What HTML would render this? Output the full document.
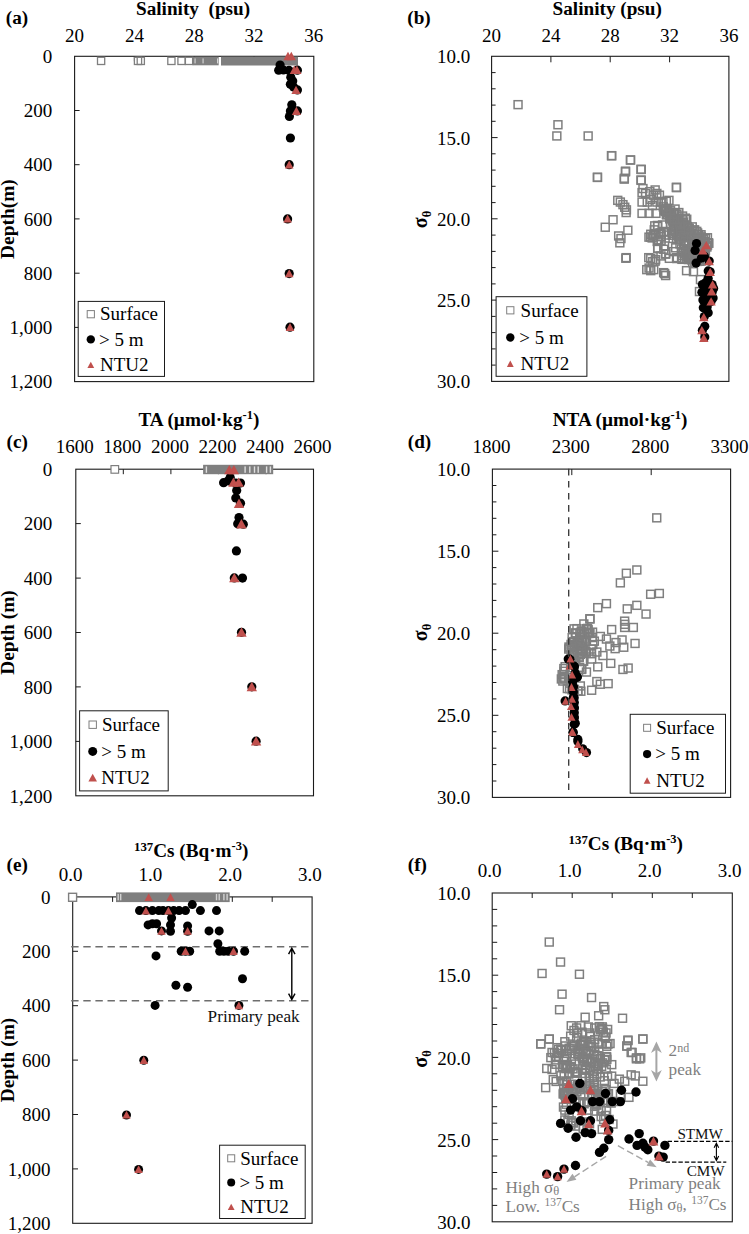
<!DOCTYPE html>
<html><head><meta charset="utf-8"><title>Figure</title>
<style>
html,body{margin:0;padding:0;background:#fff;}
svg{display:block;font-family:"Liberation Serif",serif;}
</style></head><body>
<svg width="749" height="1234" viewBox="0 0 749 1234">
<rect width="749" height="1234" fill="#fff"/>
<rect x="74.6" y="56.3" width="239.2" height="325.3" fill="none" stroke="#1a1a1a" stroke-width="1.1"/>
<rect x="491.6" y="56.3" width="237.3" height="325.1" fill="none" stroke="#1a1a1a" stroke-width="1.1"/>
<rect x="75.8" y="469.2" width="237.7" height="326.6" fill="none" stroke="#1a1a1a" stroke-width="1.1"/>
<rect x="492.4" y="469.1" width="238.2" height="328.3" fill="none" stroke="#1a1a1a" stroke-width="1.1"/>
<rect x="72.7" y="896.9" width="239.4" height="326.4" fill="none" stroke="#1a1a1a" stroke-width="1.1"/>
<rect x="492.2" y="893.0" width="240.1" height="328.8" fill="none" stroke="#1a1a1a" stroke-width="1.1"/>
<line x1="134.4" y1="56.3" x2="134.4" y2="61.3" stroke="#1a1a1a" stroke-width="1.0"/>
<line x1="194.2" y1="56.3" x2="194.2" y2="61.3" stroke="#1a1a1a" stroke-width="1.0"/>
<line x1="254.0" y1="56.3" x2="254.0" y2="61.3" stroke="#1a1a1a" stroke-width="1.0"/>
<line x1="74.6" y1="110.5" x2="79.6" y2="110.5" stroke="#1a1a1a" stroke-width="1.0"/>
<line x1="74.6" y1="164.7" x2="79.6" y2="164.7" stroke="#1a1a1a" stroke-width="1.0"/>
<line x1="74.6" y1="218.9" x2="79.6" y2="218.9" stroke="#1a1a1a" stroke-width="1.0"/>
<line x1="74.6" y1="273.2" x2="79.6" y2="273.2" stroke="#1a1a1a" stroke-width="1.0"/>
<line x1="74.6" y1="327.4" x2="79.6" y2="327.4" stroke="#1a1a1a" stroke-width="1.0"/>
<rect x="97.5" y="57.3" width="7.2" height="7.2" fill="none" stroke="#7f7f7f" stroke-width="1.3"/>
<rect x="134.4" y="57.3" width="7.2" height="7.2" fill="none" stroke="#7f7f7f" stroke-width="1.3"/>
<rect x="137.2" y="57.3" width="7.2" height="7.2" fill="none" stroke="#7f7f7f" stroke-width="1.3"/>
<rect x="167.8" y="57.3" width="7.2" height="7.2" fill="none" stroke="#7f7f7f" stroke-width="1.3"/>
<rect x="177.9" y="57.3" width="7.2" height="7.2" fill="none" stroke="#7f7f7f" stroke-width="1.3"/>
<rect x="185.4" y="57.3" width="7.2" height="7.2" fill="none" stroke="#7f7f7f" stroke-width="1.3"/>
<rect x="192.5" y="56.7" width="26.2" height="8.6" fill="#7f7f7f"/>
<rect x="194.6" y="58.4" width="0.9" height="5.0" fill="#fff" opacity="0.85"/>
<rect x="202.6" y="58.4" width="0.9" height="5.0" fill="#fff" opacity="0.85"/>
<rect x="217.2" y="58.4" width="0.9" height="5.0" fill="#fff" opacity="0.85"/>
<rect x="221.0" y="56.7" width="77.0" height="8.8" fill="#7f7f7f"/>
<circle cx="280.1" cy="65.1" r="4.6" fill="#000"/>
<circle cx="278.7" cy="70.2" r="4.6" fill="#000"/>
<circle cx="283.4" cy="70.0" r="4.6" fill="#000"/>
<circle cx="290.8" cy="77.2" r="4.6" fill="#000"/>
<circle cx="290.4" cy="84.3" r="4.6" fill="#000"/>
<circle cx="292.7" cy="81.0" r="4.6" fill="#000"/>
<circle cx="297.4" cy="70.2" r="4.6" fill="#000"/>
<circle cx="297.4" cy="89.9" r="4.6" fill="#000"/>
<circle cx="291.8" cy="104.8" r="4.6" fill="#000"/>
<circle cx="289.4" cy="116.5" r="4.6" fill="#000"/>
<circle cx="297.4" cy="110.9" r="4.6" fill="#000"/>
<circle cx="290.4" cy="138.0" r="4.6" fill="#000"/>
<circle cx="293.6" cy="87.1" r="4.6" fill="#000"/>
<circle cx="289.0" cy="70.4" r="4.6" fill="#000"/>
<circle cx="290.4" cy="110.9" r="4.6" fill="#000"/>
<circle cx="289.2" cy="164.7" r="4.6" fill="#000"/>
<circle cx="287.6" cy="218.9" r="4.6" fill="#000"/>
<circle cx="289.2" cy="273.6" r="4.6" fill="#000"/>
<circle cx="290.0" cy="327.2" r="4.6" fill="#000"/>
<path d="M288.0 51.8 L292.6 60.2 L283.4 60.2Z" fill="#c0504d"/>
<path d="M291.3 51.8 L295.9 60.2 L286.7 60.2Z" fill="#c0504d"/>
<path d="M294.3 65.6 L298.9 74.0 L289.7 74.0Z" fill="#c0504d"/>
<path d="M296.9 65.6 L301.5 74.0 L292.3 74.0Z" fill="#c0504d"/>
<path d="M296.0 85.7 L300.6 94.1 L291.4 94.1Z" fill="#c0504d"/>
<path d="M296.4 106.7 L301.0 115.1 L291.8 115.1Z" fill="#c0504d"/>
<path d="M289.2 160.4 L293.5 168.4 L284.9 168.4Z" fill="#c0504d"/>
<path d="M287.6 214.6 L291.9 222.6 L283.3 222.6Z" fill="#c0504d"/>
<path d="M289.2 269.3 L293.5 277.3 L284.9 277.3Z" fill="#c0504d"/>
<path d="M290.0 322.9 L294.3 330.9 L285.7 330.9Z" fill="#c0504d"/>
<text x="74.6" y="41.6" font-size="19" text-anchor="middle" font-weight="normal" fill="#000" >20</text>
<text x="134.4" y="41.6" font-size="19" text-anchor="middle" font-weight="normal" fill="#000" >24</text>
<text x="194.2" y="41.6" font-size="19" text-anchor="middle" font-weight="normal" fill="#000" >28</text>
<text x="254.0" y="41.6" font-size="19" text-anchor="middle" font-weight="normal" fill="#000" >32</text>
<text x="313.8" y="41.6" font-size="19" text-anchor="middle" font-weight="normal" fill="#000" >36</text>
<text x="52.3" y="63.0" font-size="19" text-anchor="end" font-weight="normal" fill="#000" >0</text>
<text x="52.3" y="117.2" font-size="19" text-anchor="end" font-weight="normal" fill="#000" >200</text>
<text x="52.3" y="171.4" font-size="19" text-anchor="end" font-weight="normal" fill="#000" >400</text>
<text x="52.3" y="225.7" font-size="19" text-anchor="end" font-weight="normal" fill="#000" >600</text>
<text x="52.3" y="279.9" font-size="19" text-anchor="end" font-weight="normal" fill="#000" >800</text>
<text x="52.3" y="334.1" font-size="19" text-anchor="end" font-weight="normal" fill="#000" >1,000</text>
<text x="52.3" y="388.3" font-size="19" text-anchor="end" font-weight="normal" fill="#000" >1,200</text>
<text x="136.0" y="15.3" font-size="19.2" text-anchor="start" font-weight="bold" fill="#000" >Salinity&#160;&#160;(psu)</text>
<text x="5.8" y="24.2" font-size="19.2" text-anchor="start" font-weight="bold" fill="#000" >(a)</text>
<text transform="translate(14.4,219.1) rotate(-90)" font-size="19.4" font-weight="bold" text-anchor="middle">Depth(m)</text>
<rect x="78.2" y="301.4" width="86.3" height="75.0" fill="#fff" stroke="#1a1a1a" stroke-width="1"/>
<rect x="87.2" y="310.6" width="7.2" height="7.2" fill="#fff" stroke="#7f7f7f" stroke-width="1"/>
<circle cx="90.8" cy="339.4" r="4.2" fill="#000"/>
<path d="M90.8 361.7 L94.2 368.1 L87.4 368.1Z" fill="#c0504d"/>
<text x="100.0" y="320.4" font-size="19" text-anchor="start" font-weight="normal" fill="#000" >Surface</text>
<text x="99.0" y="345.6" font-size="19" text-anchor="start" font-weight="normal" fill="#000" >&gt; 5 m</text>
<text x="100.0" y="371.1" font-size="19" text-anchor="start" font-weight="normal" fill="#000" >NTU2</text>
<line x1="550.9" y1="56.3" x2="550.9" y2="62.3" stroke="#1a1a1a" stroke-width="1.0"/>
<line x1="610.2" y1="56.3" x2="610.2" y2="62.3" stroke="#1a1a1a" stroke-width="1.0"/>
<line x1="669.6" y1="56.3" x2="669.6" y2="62.3" stroke="#1a1a1a" stroke-width="1.0"/>
<line x1="491.6" y1="72.6" x2="495.6" y2="72.6" stroke="#1a1a1a" stroke-width="1.0"/>
<line x1="491.6" y1="88.8" x2="495.6" y2="88.8" stroke="#1a1a1a" stroke-width="1.0"/>
<line x1="491.6" y1="105.1" x2="495.6" y2="105.1" stroke="#1a1a1a" stroke-width="1.0"/>
<line x1="491.6" y1="121.3" x2="495.6" y2="121.3" stroke="#1a1a1a" stroke-width="1.0"/>
<line x1="491.6" y1="137.6" x2="497.6" y2="137.6" stroke="#1a1a1a" stroke-width="1.0"/>
<line x1="491.6" y1="153.8" x2="495.6" y2="153.8" stroke="#1a1a1a" stroke-width="1.0"/>
<line x1="491.6" y1="170.1" x2="495.6" y2="170.1" stroke="#1a1a1a" stroke-width="1.0"/>
<line x1="491.6" y1="186.3" x2="495.6" y2="186.3" stroke="#1a1a1a" stroke-width="1.0"/>
<line x1="491.6" y1="202.6" x2="495.6" y2="202.6" stroke="#1a1a1a" stroke-width="1.0"/>
<line x1="491.6" y1="218.8" x2="497.6" y2="218.8" stroke="#1a1a1a" stroke-width="1.0"/>
<line x1="491.6" y1="235.1" x2="495.6" y2="235.1" stroke="#1a1a1a" stroke-width="1.0"/>
<line x1="491.6" y1="251.4" x2="495.6" y2="251.4" stroke="#1a1a1a" stroke-width="1.0"/>
<line x1="491.6" y1="267.6" x2="495.6" y2="267.6" stroke="#1a1a1a" stroke-width="1.0"/>
<line x1="491.6" y1="283.9" x2="495.6" y2="283.9" stroke="#1a1a1a" stroke-width="1.0"/>
<line x1="491.6" y1="300.1" x2="497.6" y2="300.1" stroke="#1a1a1a" stroke-width="1.0"/>
<line x1="491.6" y1="316.4" x2="495.6" y2="316.4" stroke="#1a1a1a" stroke-width="1.0"/>
<line x1="491.6" y1="332.6" x2="495.6" y2="332.6" stroke="#1a1a1a" stroke-width="1.0"/>
<line x1="491.6" y1="348.9" x2="495.6" y2="348.9" stroke="#1a1a1a" stroke-width="1.0"/>
<line x1="491.6" y1="365.1" x2="495.6" y2="365.1" stroke="#1a1a1a" stroke-width="1.0"/>
<rect x="607.8" y="151.8" width="7.9" height="7.9" fill="none" stroke="#7f7f7f" stroke-width="1.5"/>
<rect x="626.5" y="156.1" width="7.9" height="7.9" fill="none" stroke="#7f7f7f" stroke-width="1.5"/>
<rect x="593.5" y="173.5" width="7.9" height="7.9" fill="none" stroke="#7f7f7f" stroke-width="1.5"/>
<rect x="621.6" y="167.2" width="7.9" height="7.9" fill="none" stroke="#7f7f7f" stroke-width="1.5"/>
<rect x="620.3" y="175.2" width="7.9" height="7.9" fill="none" stroke="#7f7f7f" stroke-width="1.5"/>
<rect x="637.3" y="165.5" width="7.9" height="7.9" fill="none" stroke="#7f7f7f" stroke-width="1.5"/>
<rect x="637.3" y="176.4" width="7.9" height="7.9" fill="none" stroke="#7f7f7f" stroke-width="1.5"/>
<rect x="639.0" y="184.6" width="7.9" height="7.9" fill="none" stroke="#7f7f7f" stroke-width="1.5"/>
<rect x="638.1" y="188.6" width="7.9" height="7.9" fill="none" stroke="#7f7f7f" stroke-width="1.5"/>
<rect x="613.8" y="196.4" width="7.9" height="7.9" fill="none" stroke="#7f7f7f" stroke-width="1.5"/>
<rect x="616.4" y="198.1" width="7.9" height="7.9" fill="none" stroke="#7f7f7f" stroke-width="1.5"/>
<rect x="619.0" y="200.7" width="7.9" height="7.9" fill="none" stroke="#7f7f7f" stroke-width="1.5"/>
<rect x="620.8" y="203.3" width="7.9" height="7.9" fill="none" stroke="#7f7f7f" stroke-width="1.5"/>
<rect x="622.5" y="205.9" width="7.9" height="7.9" fill="none" stroke="#7f7f7f" stroke-width="1.5"/>
<rect x="622.2" y="208.6" width="7.9" height="7.9" fill="none" stroke="#7f7f7f" stroke-width="1.5"/>
<rect x="638.1" y="198.1" width="7.9" height="7.9" fill="none" stroke="#7f7f7f" stroke-width="1.5"/>
<rect x="638.1" y="209.4" width="7.9" height="7.9" fill="none" stroke="#7f7f7f" stroke-width="1.5"/>
<rect x="645.1" y="209.4" width="7.9" height="7.9" fill="none" stroke="#7f7f7f" stroke-width="1.5"/>
<rect x="652.0" y="209.4" width="7.9" height="7.9" fill="none" stroke="#7f7f7f" stroke-width="1.5"/>
<rect x="651.2" y="186.0" width="7.9" height="7.9" fill="none" stroke="#7f7f7f" stroke-width="1.5"/>
<rect x="652.9" y="189.5" width="7.9" height="7.9" fill="none" stroke="#7f7f7f" stroke-width="1.5"/>
<rect x="649.4" y="191.2" width="7.9" height="7.9" fill="none" stroke="#7f7f7f" stroke-width="1.5"/>
<rect x="646.8" y="195.5" width="7.9" height="7.9" fill="none" stroke="#7f7f7f" stroke-width="1.5"/>
<rect x="643.3" y="198.1" width="7.9" height="7.9" fill="none" stroke="#7f7f7f" stroke-width="1.5"/>
<rect x="648.5" y="201.6" width="7.9" height="7.9" fill="none" stroke="#7f7f7f" stroke-width="1.5"/>
<rect x="672.5" y="183.7" width="7.9" height="7.9" fill="none" stroke="#7f7f7f" stroke-width="1.5"/>
<rect x="662.4" y="197.3" width="7.9" height="7.9" fill="none" stroke="#7f7f7f" stroke-width="1.5"/>
<rect x="665.0" y="196.4" width="7.9" height="7.9" fill="none" stroke="#7f7f7f" stroke-width="1.5"/>
<rect x="659.0" y="198.1" width="7.9" height="7.9" fill="none" stroke="#7f7f7f" stroke-width="1.5"/>
<rect x="671.1" y="205.1" width="7.9" height="7.9" fill="none" stroke="#7f7f7f" stroke-width="1.5"/>
<rect x="609.1" y="215.8" width="7.9" height="7.9" fill="none" stroke="#7f7f7f" stroke-width="1.5"/>
<rect x="601.3" y="223.3" width="7.9" height="7.9" fill="none" stroke="#7f7f7f" stroke-width="1.5"/>
<rect x="623.9" y="226.3" width="7.9" height="7.9" fill="none" stroke="#7f7f7f" stroke-width="1.5"/>
<rect x="614.7" y="232.0" width="7.9" height="7.9" fill="none" stroke="#7f7f7f" stroke-width="1.5"/>
<rect x="617.0" y="234.6" width="7.9" height="7.9" fill="none" stroke="#7f7f7f" stroke-width="1.5"/>
<rect x="615.9" y="238.9" width="7.9" height="7.9" fill="none" stroke="#7f7f7f" stroke-width="1.5"/>
<rect x="622.2" y="253.7" width="7.9" height="7.9" fill="none" stroke="#7f7f7f" stroke-width="1.5"/>
<rect x="646.8" y="230.3" width="7.9" height="7.9" fill="none" stroke="#7f7f7f" stroke-width="1.5"/>
<rect x="650.3" y="225.9" width="7.9" height="7.9" fill="none" stroke="#7f7f7f" stroke-width="1.5"/>
<rect x="653.8" y="222.4" width="7.9" height="7.9" fill="none" stroke="#7f7f7f" stroke-width="1.5"/>
<rect x="653.8" y="244.1" width="7.9" height="7.9" fill="none" stroke="#7f7f7f" stroke-width="1.5"/>
<rect x="657.2" y="236.3" width="7.9" height="7.9" fill="none" stroke="#7f7f7f" stroke-width="1.5"/>
<rect x="661.6" y="250.2" width="7.9" height="7.9" fill="none" stroke="#7f7f7f" stroke-width="1.5"/>
<rect x="646.8" y="254.6" width="7.9" height="7.9" fill="none" stroke="#7f7f7f" stroke-width="1.5"/>
<rect x="651.2" y="257.2" width="7.9" height="7.9" fill="none" stroke="#7f7f7f" stroke-width="1.5"/>
<rect x="645.1" y="264.1" width="7.9" height="7.9" fill="none" stroke="#7f7f7f" stroke-width="1.5"/>
<rect x="672.9" y="254.6" width="7.9" height="7.9" fill="none" stroke="#7f7f7f" stroke-width="1.5"/>
<rect x="678.1" y="255.4" width="7.9" height="7.9" fill="none" stroke="#7f7f7f" stroke-width="1.5"/>
<rect x="683.3" y="250.2" width="7.9" height="7.9" fill="none" stroke="#7f7f7f" stroke-width="1.5"/>
<rect x="687.6" y="229.4" width="7.9" height="7.9" fill="none" stroke="#7f7f7f" stroke-width="1.5"/>
<rect x="697.2" y="232.9" width="7.9" height="7.9" fill="none" stroke="#7f7f7f" stroke-width="1.5"/>
<rect x="701.5" y="234.6" width="7.9" height="7.9" fill="none" stroke="#7f7f7f" stroke-width="1.5"/>
<rect x="641.6" y="189.5" width="7.9" height="7.9" fill="none" stroke="#7f7f7f" stroke-width="1.5"/>
<rect x="645.9" y="187.7" width="7.9" height="7.9" fill="none" stroke="#7f7f7f" stroke-width="1.5"/>
<rect x="655.5" y="191.2" width="7.9" height="7.9" fill="none" stroke="#7f7f7f" stroke-width="1.5"/>
<rect x="657.2" y="198.1" width="7.9" height="7.9" fill="none" stroke="#7f7f7f" stroke-width="1.5"/>
<rect x="652.9" y="198.1" width="7.9" height="7.9" fill="none" stroke="#7f7f7f" stroke-width="1.5"/>
<rect x="514.1" y="100.7" width="7.9" height="7.9" fill="none" stroke="#7f7f7f" stroke-width="1.5"/>
<rect x="554.0" y="120.8" width="7.9" height="7.9" fill="none" stroke="#7f7f7f" stroke-width="1.5"/>
<rect x="552.9" y="132.0" width="7.9" height="7.9" fill="none" stroke="#7f7f7f" stroke-width="1.5"/>
<rect x="584.2" y="132.0" width="7.9" height="7.9" fill="none" stroke="#7f7f7f" stroke-width="1.5"/>
<rect x="607.5" y="151.7" width="7.9" height="7.9" fill="none" stroke="#7f7f7f" stroke-width="1.5"/>
<rect x="626.6" y="156.0" width="7.9" height="7.9" fill="none" stroke="#7f7f7f" stroke-width="1.5"/>
<rect x="637.0" y="165.4" width="7.9" height="7.9" fill="none" stroke="#7f7f7f" stroke-width="1.5"/>
<rect x="637.0" y="176.1" width="7.9" height="7.9" fill="none" stroke="#7f7f7f" stroke-width="1.5"/>
<rect x="621.5" y="167.9" width="7.9" height="7.9" fill="none" stroke="#7f7f7f" stroke-width="1.5"/>
<rect x="620.4" y="174.3" width="7.9" height="7.9" fill="none" stroke="#7f7f7f" stroke-width="1.5"/>
<rect x="593.5" y="173.3" width="7.9" height="7.9" fill="none" stroke="#7f7f7f" stroke-width="1.5"/>
<rect x="672.5" y="183.3" width="7.9" height="7.9" fill="none" stroke="#7f7f7f" stroke-width="1.5"/>
<rect x="621.9" y="254.3" width="7.9" height="7.9" fill="none" stroke="#7f7f7f" stroke-width="1.5"/>
<rect x="644.8" y="253.7" width="7.9" height="7.9" fill="none" stroke="#7f7f7f" stroke-width="1.5"/>
<rect x="648.8" y="257.7" width="7.9" height="7.9" fill="none" stroke="#7f7f7f" stroke-width="1.5"/>
<rect x="651.7" y="255.7" width="7.9" height="7.9" fill="none" stroke="#7f7f7f" stroke-width="1.5"/>
<rect x="642.8" y="265.7" width="7.9" height="7.9" fill="none" stroke="#7f7f7f" stroke-width="1.5"/>
<rect x="646.8" y="266.7" width="7.9" height="7.9" fill="none" stroke="#7f7f7f" stroke-width="1.5"/>
<rect x="649.8" y="265.7" width="7.9" height="7.9" fill="none" stroke="#7f7f7f" stroke-width="1.5"/>
<rect x="660.7" y="269.7" width="7.9" height="7.9" fill="none" stroke="#7f7f7f" stroke-width="1.5"/>
<rect x="661.7" y="271.6" width="7.9" height="7.9" fill="none" stroke="#7f7f7f" stroke-width="1.5"/>
<rect x="659.7" y="268.7" width="7.9" height="7.9" fill="none" stroke="#7f7f7f" stroke-width="1.5"/>
<rect x="682.6" y="266.7" width="7.9" height="7.9" fill="none" stroke="#7f7f7f" stroke-width="1.5"/>
<rect x="689.5" y="267.7" width="7.9" height="7.9" fill="none" stroke="#7f7f7f" stroke-width="1.5"/>
<rect x="672.6" y="253.7" width="7.9" height="7.9" fill="none" stroke="#7f7f7f" stroke-width="1.5"/>
<rect x="677.6" y="254.7" width="7.9" height="7.9" fill="none" stroke="#7f7f7f" stroke-width="1.5"/>
<rect x="653.7" y="244.8" width="7.9" height="7.9" fill="none" stroke="#7f7f7f" stroke-width="1.5"/>
<rect x="661.7" y="249.8" width="7.9" height="7.9" fill="none" stroke="#7f7f7f" stroke-width="1.5"/>
<rect x="695.5" y="287.6" width="7.9" height="7.9" fill="none" stroke="#7f7f7f" stroke-width="1.5"/>
<rect x="696.5" y="275.6" width="7.9" height="7.9" fill="none" stroke="#7f7f7f" stroke-width="1.5"/>
<rect x="699.5" y="235.8" width="7.9" height="7.9" fill="none" stroke="#7f7f7f" stroke-width="1.5"/>
<rect x="703.5" y="233.8" width="7.9" height="7.9" fill="none" stroke="#7f7f7f" stroke-width="1.5"/>
<rect x="673.0" y="210.2" width="7.9" height="7.9" fill="none" stroke="#7f7f7f" stroke-width="1.5"/>
<rect x="683.3" y="222.6" width="7.9" height="7.9" fill="none" stroke="#7f7f7f" stroke-width="1.5"/>
<rect x="660.6" y="206.8" width="7.9" height="7.9" fill="none" stroke="#7f7f7f" stroke-width="1.5"/>
<rect x="677.9" y="249.0" width="7.9" height="7.9" fill="none" stroke="#7f7f7f" stroke-width="1.5"/>
<rect x="687.7" y="255.9" width="7.9" height="7.9" fill="none" stroke="#7f7f7f" stroke-width="1.5"/>
<rect x="685.3" y="224.3" width="7.9" height="7.9" fill="none" stroke="#7f7f7f" stroke-width="1.5"/>
<rect x="664.2" y="208.4" width="7.9" height="7.9" fill="none" stroke="#7f7f7f" stroke-width="1.5"/>
<rect x="688.3" y="222.9" width="7.9" height="7.9" fill="none" stroke="#7f7f7f" stroke-width="1.5"/>
<rect x="690.3" y="226.1" width="7.9" height="7.9" fill="none" stroke="#7f7f7f" stroke-width="1.5"/>
<rect x="672.5" y="235.2" width="7.9" height="7.9" fill="none" stroke="#7f7f7f" stroke-width="1.5"/>
<rect x="679.3" y="218.8" width="7.9" height="7.9" fill="none" stroke="#7f7f7f" stroke-width="1.5"/>
<rect x="695.8" y="241.7" width="7.9" height="7.9" fill="none" stroke="#7f7f7f" stroke-width="1.5"/>
<rect x="669.1" y="234.5" width="7.9" height="7.9" fill="none" stroke="#7f7f7f" stroke-width="1.5"/>
<rect x="682.8" y="251.7" width="7.9" height="7.9" fill="none" stroke="#7f7f7f" stroke-width="1.5"/>
<rect x="677.6" y="245.0" width="7.9" height="7.9" fill="none" stroke="#7f7f7f" stroke-width="1.5"/>
<rect x="694.4" y="234.4" width="7.9" height="7.9" fill="none" stroke="#7f7f7f" stroke-width="1.5"/>
<rect x="691.0" y="235.7" width="7.9" height="7.9" fill="none" stroke="#7f7f7f" stroke-width="1.5"/>
<rect x="685.4" y="227.7" width="7.9" height="7.9" fill="none" stroke="#7f7f7f" stroke-width="1.5"/>
<rect x="698.1" y="255.7" width="7.9" height="7.9" fill="none" stroke="#7f7f7f" stroke-width="1.5"/>
<rect x="680.3" y="239.7" width="7.9" height="7.9" fill="none" stroke="#7f7f7f" stroke-width="1.5"/>
<rect x="688.7" y="258.5" width="7.9" height="7.9" fill="none" stroke="#7f7f7f" stroke-width="1.5"/>
<rect x="676.0" y="239.9" width="7.9" height="7.9" fill="none" stroke="#7f7f7f" stroke-width="1.5"/>
<rect x="665.4" y="208.3" width="7.9" height="7.9" fill="none" stroke="#7f7f7f" stroke-width="1.5"/>
<rect x="683.9" y="252.2" width="7.9" height="7.9" fill="none" stroke="#7f7f7f" stroke-width="1.5"/>
<rect x="697.1" y="251.1" width="7.9" height="7.9" fill="none" stroke="#7f7f7f" stroke-width="1.5"/>
<rect x="670.8" y="225.4" width="7.9" height="7.9" fill="none" stroke="#7f7f7f" stroke-width="1.5"/>
<rect x="665.8" y="214.9" width="7.9" height="7.9" fill="none" stroke="#7f7f7f" stroke-width="1.5"/>
<rect x="668.6" y="229.4" width="7.9" height="7.9" fill="none" stroke="#7f7f7f" stroke-width="1.5"/>
<rect x="675.2" y="234.1" width="7.9" height="7.9" fill="none" stroke="#7f7f7f" stroke-width="1.5"/>
<rect x="703.6" y="241.2" width="7.9" height="7.9" fill="none" stroke="#7f7f7f" stroke-width="1.5"/>
<rect x="682.3" y="237.0" width="7.9" height="7.9" fill="none" stroke="#7f7f7f" stroke-width="1.5"/>
<rect x="701.0" y="246.3" width="7.9" height="7.9" fill="none" stroke="#7f7f7f" stroke-width="1.5"/>
<rect x="699.7" y="247.3" width="7.9" height="7.9" fill="none" stroke="#7f7f7f" stroke-width="1.5"/>
<rect x="676.3" y="224.5" width="7.9" height="7.9" fill="none" stroke="#7f7f7f" stroke-width="1.5"/>
<rect x="660.3" y="205.5" width="7.9" height="7.9" fill="none" stroke="#7f7f7f" stroke-width="1.5"/>
<rect x="667.4" y="210.9" width="7.9" height="7.9" fill="none" stroke="#7f7f7f" stroke-width="1.5"/>
<rect x="669.5" y="221.5" width="7.9" height="7.9" fill="none" stroke="#7f7f7f" stroke-width="1.5"/>
<rect x="674.9" y="208.6" width="7.9" height="7.9" fill="none" stroke="#7f7f7f" stroke-width="1.5"/>
<rect x="679.9" y="229.3" width="7.9" height="7.9" fill="none" stroke="#7f7f7f" stroke-width="1.5"/>
<rect x="661.4" y="207.5" width="7.9" height="7.9" fill="none" stroke="#7f7f7f" stroke-width="1.5"/>
<rect x="673.9" y="216.8" width="7.9" height="7.9" fill="none" stroke="#7f7f7f" stroke-width="1.5"/>
<rect x="699.2" y="241.5" width="7.9" height="7.9" fill="none" stroke="#7f7f7f" stroke-width="1.5"/>
<rect x="669.9" y="222.6" width="7.9" height="7.9" fill="none" stroke="#7f7f7f" stroke-width="1.5"/>
<rect x="683.1" y="246.2" width="7.9" height="7.9" fill="none" stroke="#7f7f7f" stroke-width="1.5"/>
<rect x="673.3" y="214.4" width="7.9" height="7.9" fill="none" stroke="#7f7f7f" stroke-width="1.5"/>
<rect x="698.7" y="247.8" width="7.9" height="7.9" fill="none" stroke="#7f7f7f" stroke-width="1.5"/>
<rect x="697.0" y="244.0" width="7.9" height="7.9" fill="none" stroke="#7f7f7f" stroke-width="1.5"/>
<rect x="668.3" y="231.3" width="7.9" height="7.9" fill="none" stroke="#7f7f7f" stroke-width="1.5"/>
<rect x="667.9" y="214.6" width="7.9" height="7.9" fill="none" stroke="#7f7f7f" stroke-width="1.5"/>
<rect x="666.8" y="213.3" width="7.9" height="7.9" fill="none" stroke="#7f7f7f" stroke-width="1.5"/>
<rect x="687.6" y="253.2" width="7.9" height="7.9" fill="none" stroke="#7f7f7f" stroke-width="1.5"/>
<rect x="689.0" y="247.4" width="7.9" height="7.9" fill="none" stroke="#7f7f7f" stroke-width="1.5"/>
<rect x="701.5" y="246.4" width="7.9" height="7.9" fill="none" stroke="#7f7f7f" stroke-width="1.5"/>
<rect x="693.7" y="229.0" width="7.9" height="7.9" fill="none" stroke="#7f7f7f" stroke-width="1.5"/>
<rect x="663.4" y="210.3" width="7.9" height="7.9" fill="none" stroke="#7f7f7f" stroke-width="1.5"/>
<rect x="701.2" y="247.8" width="7.9" height="7.9" fill="none" stroke="#7f7f7f" stroke-width="1.5"/>
<rect x="704.9" y="239.3" width="7.9" height="7.9" fill="none" stroke="#7f7f7f" stroke-width="1.5"/>
<rect x="674.3" y="233.0" width="7.9" height="7.9" fill="none" stroke="#7f7f7f" stroke-width="1.5"/>
<rect x="704.4" y="238.8" width="7.9" height="7.9" fill="none" stroke="#7f7f7f" stroke-width="1.5"/>
<rect x="682.8" y="255.1" width="7.9" height="7.9" fill="none" stroke="#7f7f7f" stroke-width="1.5"/>
<rect x="678.3" y="251.5" width="7.9" height="7.9" fill="none" stroke="#7f7f7f" stroke-width="1.5"/>
<rect x="669.5" y="218.4" width="7.9" height="7.9" fill="none" stroke="#7f7f7f" stroke-width="1.5"/>
<rect x="669.8" y="225.6" width="7.9" height="7.9" fill="none" stroke="#7f7f7f" stroke-width="1.5"/>
<rect x="674.4" y="227.9" width="7.9" height="7.9" fill="none" stroke="#7f7f7f" stroke-width="1.5"/>
<rect x="685.6" y="253.4" width="7.9" height="7.9" fill="none" stroke="#7f7f7f" stroke-width="1.5"/>
<rect x="681.6" y="232.1" width="7.9" height="7.9" fill="none" stroke="#7f7f7f" stroke-width="1.5"/>
<rect x="678.6" y="212.1" width="7.9" height="7.9" fill="none" stroke="#7f7f7f" stroke-width="1.5"/>
<rect x="692.5" y="233.5" width="7.9" height="7.9" fill="none" stroke="#7f7f7f" stroke-width="1.5"/>
<rect x="673.1" y="231.3" width="7.9" height="7.9" fill="none" stroke="#7f7f7f" stroke-width="1.5"/>
<rect x="684.2" y="246.5" width="7.9" height="7.9" fill="none" stroke="#7f7f7f" stroke-width="1.5"/>
<rect x="669.3" y="217.5" width="7.9" height="7.9" fill="none" stroke="#7f7f7f" stroke-width="1.5"/>
<rect x="694.8" y="230.7" width="7.9" height="7.9" fill="none" stroke="#7f7f7f" stroke-width="1.5"/>
<rect x="684.5" y="245.1" width="7.9" height="7.9" fill="none" stroke="#7f7f7f" stroke-width="1.5"/>
<rect x="687.0" y="230.6" width="7.9" height="7.9" fill="none" stroke="#7f7f7f" stroke-width="1.5"/>
<rect x="682.1" y="241.3" width="7.9" height="7.9" fill="none" stroke="#7f7f7f" stroke-width="1.5"/>
<rect x="679.2" y="232.2" width="7.9" height="7.9" fill="none" stroke="#7f7f7f" stroke-width="1.5"/>
<rect x="691.2" y="251.8" width="7.9" height="7.9" fill="none" stroke="#7f7f7f" stroke-width="1.5"/>
<rect x="684.4" y="255.6" width="7.9" height="7.9" fill="none" stroke="#7f7f7f" stroke-width="1.5"/>
<rect x="695.3" y="253.0" width="7.9" height="7.9" fill="none" stroke="#7f7f7f" stroke-width="1.5"/>
<rect x="676.6" y="229.5" width="7.9" height="7.9" fill="none" stroke="#7f7f7f" stroke-width="1.5"/>
<rect x="682.3" y="221.0" width="7.9" height="7.9" fill="none" stroke="#7f7f7f" stroke-width="1.5"/>
<rect x="666.7" y="219.9" width="7.9" height="7.9" fill="none" stroke="#7f7f7f" stroke-width="1.5"/>
<rect x="684.2" y="226.8" width="7.9" height="7.9" fill="none" stroke="#7f7f7f" stroke-width="1.5"/>
<rect x="687.6" y="231.0" width="7.9" height="7.9" fill="none" stroke="#7f7f7f" stroke-width="1.5"/>
<rect x="695.6" y="257.3" width="7.9" height="7.9" fill="none" stroke="#7f7f7f" stroke-width="1.5"/>
<rect x="670.4" y="209.0" width="7.9" height="7.9" fill="none" stroke="#7f7f7f" stroke-width="1.5"/>
<rect x="685.0" y="241.7" width="7.9" height="7.9" fill="none" stroke="#7f7f7f" stroke-width="1.5"/>
<rect x="661.6" y="204.9" width="7.9" height="7.9" fill="none" stroke="#7f7f7f" stroke-width="1.5"/>
<rect x="690.7" y="226.0" width="7.9" height="7.9" fill="none" stroke="#7f7f7f" stroke-width="1.5"/>
<rect x="688.1" y="247.5" width="7.9" height="7.9" fill="none" stroke="#7f7f7f" stroke-width="1.5"/>
<rect x="679.3" y="221.0" width="7.9" height="7.9" fill="none" stroke="#7f7f7f" stroke-width="1.5"/>
<rect x="684.1" y="254.7" width="7.9" height="7.9" fill="none" stroke="#7f7f7f" stroke-width="1.5"/>
<rect x="670.3" y="209.0" width="7.9" height="7.9" fill="none" stroke="#7f7f7f" stroke-width="1.5"/>
<rect x="682.8" y="215.3" width="7.9" height="7.9" fill="none" stroke="#7f7f7f" stroke-width="1.5"/>
<rect x="662.6" y="210.9" width="7.9" height="7.9" fill="none" stroke="#7f7f7f" stroke-width="1.5"/>
<rect x="672.4" y="219.1" width="7.9" height="7.9" fill="none" stroke="#7f7f7f" stroke-width="1.5"/>
<rect x="692.9" y="233.2" width="7.9" height="7.9" fill="none" stroke="#7f7f7f" stroke-width="1.5"/>
<rect x="681.3" y="249.4" width="7.9" height="7.9" fill="none" stroke="#7f7f7f" stroke-width="1.5"/>
<rect x="676.3" y="230.6" width="7.9" height="7.9" fill="none" stroke="#7f7f7f" stroke-width="1.5"/>
<rect x="690.7" y="257.9" width="7.9" height="7.9" fill="none" stroke="#7f7f7f" stroke-width="1.5"/>
<rect x="691.6" y="238.0" width="7.9" height="7.9" fill="none" stroke="#7f7f7f" stroke-width="1.5"/>
<rect x="676.9" y="221.5" width="7.9" height="7.9" fill="none" stroke="#7f7f7f" stroke-width="1.5"/>
<rect x="669.7" y="211.0" width="7.9" height="7.9" fill="none" stroke="#7f7f7f" stroke-width="1.5"/>
<rect x="699.5" y="240.0" width="7.9" height="7.9" fill="none" stroke="#7f7f7f" stroke-width="1.5"/>
<rect x="670.9" y="215.5" width="7.9" height="7.9" fill="none" stroke="#7f7f7f" stroke-width="1.5"/>
<rect x="671.5" y="227.9" width="7.9" height="7.9" fill="none" stroke="#7f7f7f" stroke-width="1.5"/>
<rect x="672.3" y="222.0" width="7.9" height="7.9" fill="none" stroke="#7f7f7f" stroke-width="1.5"/>
<rect x="680.3" y="230.4" width="7.9" height="7.9" fill="none" stroke="#7f7f7f" stroke-width="1.5"/>
<rect x="659.3" y="202.9" width="7.9" height="7.9" fill="none" stroke="#7f7f7f" stroke-width="1.5"/>
<rect x="672.0" y="214.9" width="7.9" height="7.9" fill="none" stroke="#7f7f7f" stroke-width="1.5"/>
<rect x="685.7" y="231.9" width="7.9" height="7.9" fill="none" stroke="#7f7f7f" stroke-width="1.5"/>
<rect x="693.7" y="239.3" width="7.9" height="7.9" fill="none" stroke="#7f7f7f" stroke-width="1.5"/>
<rect x="692.0" y="252.0" width="7.9" height="7.9" fill="none" stroke="#7f7f7f" stroke-width="1.5"/>
<rect x="676.2" y="220.3" width="7.9" height="7.9" fill="none" stroke="#7f7f7f" stroke-width="1.5"/>
<rect x="692.4" y="238.5" width="7.9" height="7.9" fill="none" stroke="#7f7f7f" stroke-width="1.5"/>
<rect x="700.6" y="237.5" width="7.9" height="7.9" fill="none" stroke="#7f7f7f" stroke-width="1.5"/>
<rect x="692.9" y="248.1" width="7.9" height="7.9" fill="none" stroke="#7f7f7f" stroke-width="1.5"/>
<rect x="681.7" y="249.4" width="7.9" height="7.9" fill="none" stroke="#7f7f7f" stroke-width="1.5"/>
<rect x="696.3" y="249.0" width="7.9" height="7.9" fill="none" stroke="#7f7f7f" stroke-width="1.5"/>
<rect x="685.6" y="252.8" width="7.9" height="7.9" fill="none" stroke="#7f7f7f" stroke-width="1.5"/>
<rect x="690.4" y="241.3" width="7.9" height="7.9" fill="none" stroke="#7f7f7f" stroke-width="1.5"/>
<rect x="684.4" y="237.6" width="7.9" height="7.9" fill="none" stroke="#7f7f7f" stroke-width="1.5"/>
<rect x="687.7" y="240.6" width="7.9" height="7.9" fill="none" stroke="#7f7f7f" stroke-width="1.5"/>
<rect x="696.0" y="244.5" width="7.9" height="7.9" fill="none" stroke="#7f7f7f" stroke-width="1.5"/>
<rect x="681.7" y="232.3" width="7.9" height="7.9" fill="none" stroke="#7f7f7f" stroke-width="1.5"/>
<rect x="693.2" y="257.5" width="7.9" height="7.9" fill="none" stroke="#7f7f7f" stroke-width="1.5"/>
<rect x="681.2" y="223.5" width="7.9" height="7.9" fill="none" stroke="#7f7f7f" stroke-width="1.5"/>
<rect x="680.5" y="240.8" width="7.9" height="7.9" fill="none" stroke="#7f7f7f" stroke-width="1.5"/>
<rect x="694.5" y="237.0" width="7.9" height="7.9" fill="none" stroke="#7f7f7f" stroke-width="1.5"/>
<rect x="689.9" y="241.3" width="7.9" height="7.9" fill="none" stroke="#7f7f7f" stroke-width="1.5"/>
<rect x="682.3" y="228.2" width="7.9" height="7.9" fill="none" stroke="#7f7f7f" stroke-width="1.5"/>
<rect x="697.1" y="257.1" width="7.9" height="7.9" fill="none" stroke="#7f7f7f" stroke-width="1.5"/>
<rect x="679.1" y="217.0" width="7.9" height="7.9" fill="none" stroke="#7f7f7f" stroke-width="1.5"/>
<rect x="697.1" y="230.8" width="7.9" height="7.9" fill="none" stroke="#7f7f7f" stroke-width="1.5"/>
<rect x="700.3" y="241.9" width="7.9" height="7.9" fill="none" stroke="#7f7f7f" stroke-width="1.5"/>
<rect x="679.1" y="218.9" width="7.9" height="7.9" fill="none" stroke="#7f7f7f" stroke-width="1.5"/>
<rect x="702.3" y="242.5" width="7.9" height="7.9" fill="none" stroke="#7f7f7f" stroke-width="1.5"/>
<rect x="675.3" y="224.1" width="7.9" height="7.9" fill="none" stroke="#7f7f7f" stroke-width="1.5"/>
<rect x="674.8" y="226.1" width="7.9" height="7.9" fill="none" stroke="#7f7f7f" stroke-width="1.5"/>
<rect x="669.4" y="216.8" width="7.9" height="7.9" fill="none" stroke="#7f7f7f" stroke-width="1.5"/>
<rect x="700.2" y="248.1" width="7.9" height="7.9" fill="none" stroke="#7f7f7f" stroke-width="1.5"/>
<rect x="687.9" y="253.9" width="7.9" height="7.9" fill="none" stroke="#7f7f7f" stroke-width="1.5"/>
<rect x="692.8" y="227.4" width="7.9" height="7.9" fill="none" stroke="#7f7f7f" stroke-width="1.5"/>
<rect x="693.8" y="238.5" width="7.9" height="7.9" fill="none" stroke="#7f7f7f" stroke-width="1.5"/>
<rect x="680.2" y="221.3" width="7.9" height="7.9" fill="none" stroke="#7f7f7f" stroke-width="1.5"/>
<rect x="671.7" y="243.9" width="7.9" height="7.9" fill="none" stroke="#7f7f7f" stroke-width="1.5"/>
<rect x="684.3" y="224.2" width="7.9" height="7.9" fill="none" stroke="#7f7f7f" stroke-width="1.5"/>
<rect x="665.4" y="210.9" width="7.9" height="7.9" fill="none" stroke="#7f7f7f" stroke-width="1.5"/>
<rect x="681.4" y="214.2" width="7.9" height="7.9" fill="none" stroke="#7f7f7f" stroke-width="1.5"/>
<rect x="666.6" y="206.8" width="7.9" height="7.9" fill="none" stroke="#7f7f7f" stroke-width="1.5"/>
<rect x="668.9" y="216.4" width="7.9" height="7.9" fill="none" stroke="#7f7f7f" stroke-width="1.5"/>
<rect x="684.9" y="252.4" width="7.9" height="7.9" fill="none" stroke="#7f7f7f" stroke-width="1.5"/>
<rect x="677.3" y="231.6" width="7.9" height="7.9" fill="none" stroke="#7f7f7f" stroke-width="1.5"/>
<rect x="675.6" y="221.0" width="7.9" height="7.9" fill="none" stroke="#7f7f7f" stroke-width="1.5"/>
<rect x="681.7" y="237.7" width="7.9" height="7.9" fill="none" stroke="#7f7f7f" stroke-width="1.5"/>
<rect x="670.4" y="215.8" width="7.9" height="7.9" fill="none" stroke="#7f7f7f" stroke-width="1.5"/>
<rect x="676.7" y="227.1" width="7.9" height="7.9" fill="none" stroke="#7f7f7f" stroke-width="1.5"/>
<rect x="697.4" y="250.6" width="7.9" height="7.9" fill="none" stroke="#7f7f7f" stroke-width="1.5"/>
<rect x="662.5" y="210.5" width="7.9" height="7.9" fill="none" stroke="#7f7f7f" stroke-width="1.5"/>
<rect x="682.6" y="240.7" width="7.9" height="7.9" fill="none" stroke="#7f7f7f" stroke-width="1.5"/>
<rect x="703.0" y="243.0" width="7.9" height="7.9" fill="none" stroke="#7f7f7f" stroke-width="1.5"/>
<rect x="688.7" y="245.4" width="7.9" height="7.9" fill="none" stroke="#7f7f7f" stroke-width="1.5"/>
<rect x="679.5" y="233.2" width="7.9" height="7.9" fill="none" stroke="#7f7f7f" stroke-width="1.5"/>
<rect x="688.2" y="241.6" width="7.9" height="7.9" fill="none" stroke="#7f7f7f" stroke-width="1.5"/>
<rect x="662.7" y="205.6" width="7.9" height="7.9" fill="none" stroke="#7f7f7f" stroke-width="1.5"/>
<rect x="660.6" y="242.0" width="7.9" height="7.9" fill="none" stroke="#7f7f7f" stroke-width="1.5"/>
<rect x="656.1" y="228.9" width="7.9" height="7.9" fill="none" stroke="#7f7f7f" stroke-width="1.5"/>
<rect x="653.3" y="237.5" width="7.9" height="7.9" fill="none" stroke="#7f7f7f" stroke-width="1.5"/>
<rect x="651.1" y="229.7" width="7.9" height="7.9" fill="none" stroke="#7f7f7f" stroke-width="1.5"/>
<rect x="653.5" y="221.5" width="7.9" height="7.9" fill="none" stroke="#7f7f7f" stroke-width="1.5"/>
<rect x="659.8" y="245.3" width="7.9" height="7.9" fill="none" stroke="#7f7f7f" stroke-width="1.5"/>
<rect x="657.2" y="230.1" width="7.9" height="7.9" fill="none" stroke="#7f7f7f" stroke-width="1.5"/>
<rect x="665.4" y="254.4" width="7.9" height="7.9" fill="none" stroke="#7f7f7f" stroke-width="1.5"/>
<rect x="650.8" y="221.9" width="7.9" height="7.9" fill="none" stroke="#7f7f7f" stroke-width="1.5"/>
<rect x="654.5" y="236.0" width="7.9" height="7.9" fill="none" stroke="#7f7f7f" stroke-width="1.5"/>
<rect x="669.6" y="247.7" width="7.9" height="7.9" fill="none" stroke="#7f7f7f" stroke-width="1.5"/>
<rect x="660.0" y="228.2" width="7.9" height="7.9" fill="none" stroke="#7f7f7f" stroke-width="1.5"/>
<rect x="659.7" y="227.5" width="7.9" height="7.9" fill="none" stroke="#7f7f7f" stroke-width="1.5"/>
<rect x="648.2" y="234.0" width="7.9" height="7.9" fill="none" stroke="#7f7f7f" stroke-width="1.5"/>
<rect x="657.0" y="252.0" width="7.9" height="7.9" fill="none" stroke="#7f7f7f" stroke-width="1.5"/>
<rect x="646.7" y="233.2" width="7.9" height="7.9" fill="none" stroke="#7f7f7f" stroke-width="1.5"/>
<rect x="645.0" y="233.2" width="7.9" height="7.9" fill="none" stroke="#7f7f7f" stroke-width="1.5"/>
<rect x="662.3" y="231.1" width="7.9" height="7.9" fill="none" stroke="#7f7f7f" stroke-width="1.5"/>
<rect x="658.6" y="221.0" width="7.9" height="7.9" fill="none" stroke="#7f7f7f" stroke-width="1.5"/>
<rect x="657.0" y="232.7" width="7.9" height="7.9" fill="none" stroke="#7f7f7f" stroke-width="1.5"/>
<rect x="651.2" y="231.1" width="7.9" height="7.9" fill="none" stroke="#7f7f7f" stroke-width="1.5"/>
<rect x="649.4" y="231.8" width="7.9" height="7.9" fill="none" stroke="#7f7f7f" stroke-width="1.5"/>
<circle cx="696.5" cy="243.6" r="4.6" fill="#000"/>
<circle cx="695.1" cy="250.4" r="4.6" fill="#000"/>
<circle cx="696.1" cy="263.1" r="4.6" fill="#000"/>
<circle cx="701.4" cy="258.2" r="4.6" fill="#000"/>
<circle cx="704.3" cy="256.3" r="4.6" fill="#000"/>
<circle cx="709.2" cy="261.1" r="4.6" fill="#000"/>
<circle cx="708.2" cy="270.9" r="4.6" fill="#000"/>
<circle cx="710.2" cy="271.8" r="4.6" fill="#000"/>
<circle cx="705.8" cy="282.5" r="4.6" fill="#000"/>
<circle cx="712.1" cy="284.5" r="4.6" fill="#000"/>
<circle cx="706.3" cy="289.3" r="4.6" fill="#000"/>
<circle cx="712.1" cy="292.3" r="4.6" fill="#000"/>
<circle cx="704.3" cy="299.1" r="4.6" fill="#000"/>
<circle cx="711.1" cy="301.5" r="4.6" fill="#000"/>
<circle cx="707.2" cy="306.8" r="4.6" fill="#000"/>
<circle cx="708.2" cy="312.7" r="4.6" fill="#000"/>
<circle cx="704.3" cy="316.6" r="4.6" fill="#000"/>
<circle cx="704.8" cy="326.3" r="4.6" fill="#000"/>
<circle cx="702.4" cy="330.2" r="4.6" fill="#000"/>
<circle cx="704.8" cy="337.0" r="4.6" fill="#000"/>
<circle cx="708.2" cy="278.6" r="4.6" fill="#000"/>
<circle cx="709.2" cy="296.1" r="4.6" fill="#000"/>
<circle cx="702.4" cy="284.5" r="4.6" fill="#000"/>
<circle cx="701.9" cy="292.3" r="4.6" fill="#000"/>
<circle cx="702.9" cy="300.0" r="4.6" fill="#000"/>
<circle cx="703.3" cy="307.8" r="4.6" fill="#000"/>
<circle cx="709.2" cy="288.4" r="4.6" fill="#000"/>
<circle cx="713.6" cy="288.4" r="4.6" fill="#000"/>
<circle cx="713.1" cy="298.1" r="4.6" fill="#000"/>
<path d="M706.3 240.9 L711.0 249.2 L701.6 249.2Z" fill="#c0504d"/>
<path d="M702.9 246.3 L707.6 254.6 L698.2 254.6Z" fill="#c0504d"/>
<path d="M709.2 257.0 L713.9 265.3 L704.5 265.3Z" fill="#c0504d"/>
<path d="M710.2 267.7 L714.9 276.0 L705.5 276.0Z" fill="#c0504d"/>
<path d="M712.6 280.3 L717.3 288.6 L707.9 288.6Z" fill="#c0504d"/>
<path d="M711.6 287.1 L716.3 295.4 L706.9 295.4Z" fill="#c0504d"/>
<path d="M711.1 297.3 L715.8 305.6 L706.4 305.6Z" fill="#c0504d"/>
<path d="M703.8 312.9 L708.5 321.2 L699.1 321.2Z" fill="#c0504d"/>
<path d="M701.9 326.0 L706.6 334.3 L697.2 334.3Z" fill="#c0504d"/>
<path d="M703.8 333.8 L708.5 342.1 L699.1 342.1Z" fill="#c0504d"/>
<text x="491.6" y="41.6" font-size="19" text-anchor="middle" font-weight="normal" fill="#000" >20</text>
<text x="550.9" y="41.6" font-size="19" text-anchor="middle" font-weight="normal" fill="#000" >24</text>
<text x="610.2" y="41.6" font-size="19" text-anchor="middle" font-weight="normal" fill="#000" >28</text>
<text x="669.6" y="41.6" font-size="19" text-anchor="middle" font-weight="normal" fill="#000" >32</text>
<text x="728.9" y="41.6" font-size="19" text-anchor="middle" font-weight="normal" fill="#000" >36</text>
<text x="470.3" y="63.2" font-size="19" text-anchor="end" font-weight="normal" fill="#000" >10.0</text>
<text x="470.3" y="144.5" font-size="19" text-anchor="end" font-weight="normal" fill="#000" >15.0</text>
<text x="470.3" y="225.7" font-size="19" text-anchor="end" font-weight="normal" fill="#000" >20.0</text>
<text x="470.3" y="307.0" font-size="19" text-anchor="end" font-weight="normal" fill="#000" >25.0</text>
<text x="470.3" y="388.3" font-size="19" text-anchor="end" font-weight="normal" fill="#000" >30.0</text>
<text x="552.6" y="15.3" font-size="19.2" text-anchor="start" font-weight="bold" fill="#000" >Salinity (psu)</text>
<text x="407.3" y="24.2" font-size="19.2" text-anchor="start" font-weight="bold" fill="#000" >(b)</text>
<text transform="translate(426.6,219.5) rotate(-90)" font-size="20" font-weight="bold" text-anchor="middle">σ<tspan font-size="12.5" dy="4">θ</tspan></text>
<rect x="496.1" y="296.7" width="90.8" height="79.6" fill="#fff" stroke="#1a1a1a" stroke-width="1"/>
<rect x="506.7" y="306.7" width="7.2" height="7.2" fill="#fff" stroke="#7f7f7f" stroke-width="1"/>
<circle cx="510.3" cy="337.5" r="4.2" fill="#000"/>
<path d="M510.3 360.5 L513.7 366.9 L506.9 366.9Z" fill="#c0504d"/>
<text x="520.6" y="316.5" font-size="19" text-anchor="start" font-weight="normal" fill="#000" >Surface</text>
<text x="519.2" y="343.7" font-size="19" text-anchor="start" font-weight="normal" fill="#000" >&gt; 5 m</text>
<text x="520.6" y="369.9" font-size="19" text-anchor="start" font-weight="normal" fill="#000" >NTU2</text>
<line x1="123.3" y1="469.2" x2="123.3" y2="474.2" stroke="#1a1a1a" stroke-width="1.0"/>
<line x1="170.9" y1="469.2" x2="170.9" y2="474.2" stroke="#1a1a1a" stroke-width="1.0"/>
<line x1="218.4" y1="469.2" x2="218.4" y2="474.2" stroke="#1a1a1a" stroke-width="1.0"/>
<line x1="266.0" y1="469.2" x2="266.0" y2="474.2" stroke="#1a1a1a" stroke-width="1.0"/>
<line x1="75.8" y1="523.6" x2="80.8" y2="523.6" stroke="#1a1a1a" stroke-width="1.0"/>
<line x1="75.8" y1="578.1" x2="80.8" y2="578.1" stroke="#1a1a1a" stroke-width="1.0"/>
<line x1="75.8" y1="632.5" x2="80.8" y2="632.5" stroke="#1a1a1a" stroke-width="1.0"/>
<line x1="75.8" y1="686.9" x2="80.8" y2="686.9" stroke="#1a1a1a" stroke-width="1.0"/>
<line x1="75.8" y1="741.4" x2="80.8" y2="741.4" stroke="#1a1a1a" stroke-width="1.0"/>
<rect x="111.0" y="465.6" width="7.6" height="7.6" fill="#fff" stroke="#7f7f7f" stroke-width="1.2"/>
<rect x="203.1" y="464.8" width="70.1" height="9.4" fill="#7f7f7f"/>
<rect x="205.7" y="466.4" width="1.4" height="6.4" fill="#fff" opacity="0.75"/>
<rect x="244.4" y="466.4" width="1.4" height="6.4" fill="#fff" opacity="0.75"/>
<rect x="249.1" y="466.4" width="1.4" height="6.4" fill="#fff" opacity="0.75"/>
<rect x="253.8" y="466.4" width="1.4" height="6.4" fill="#fff" opacity="0.75"/>
<rect x="257.5" y="466.4" width="1.4" height="6.4" fill="#fff" opacity="0.75"/>
<rect x="265.9" y="466.4" width="1.4" height="6.4" fill="#fff" opacity="0.75"/>
<rect x="269.7" y="466.4" width="1.4" height="6.4" fill="#fff" opacity="0.75"/>
<circle cx="223.6" cy="482.7" r="4.6" fill="#000"/>
<circle cx="228.3" cy="480.8" r="4.6" fill="#000"/>
<circle cx="230.2" cy="477.4" r="4.6" fill="#000"/>
<circle cx="235.8" cy="483.0" r="4.6" fill="#000"/>
<circle cx="240.5" cy="483.0" r="4.6" fill="#000"/>
<circle cx="236.7" cy="490.5" r="4.6" fill="#000"/>
<circle cx="235.8" cy="498.0" r="4.6" fill="#000"/>
<circle cx="240.5" cy="503.2" r="4.6" fill="#000"/>
<circle cx="239.0" cy="517.6" r="4.6" fill="#000"/>
<circle cx="237.7" cy="523.8" r="4.6" fill="#000"/>
<circle cx="243.3" cy="524.2" r="4.6" fill="#000"/>
<circle cx="236.4" cy="550.9" r="4.6" fill="#000"/>
<circle cx="234.3" cy="577.9" r="4.6" fill="#000"/>
<circle cx="242.5" cy="578.1" r="4.6" fill="#000"/>
<circle cx="241.5" cy="632.3" r="4.6" fill="#000"/>
<circle cx="251.8" cy="686.8" r="4.6" fill="#000"/>
<circle cx="256.1" cy="741.2" r="4.6" fill="#000"/>
<path d="M229.3 464.9 L234.5 474.3 L224.1 474.3Z" fill="#c0504d"/>
<path d="M233.9 464.9 L239.1 474.3 L228.7 474.3Z" fill="#c0504d"/>
<path d="M233.4 477.4 L238.6 486.8 L228.2 486.8Z" fill="#c0504d"/>
<path d="M238.6 477.4 L243.8 486.8 L233.4 486.8Z" fill="#c0504d"/>
<path d="M239.0 498.5 L244.2 507.9 L233.8 507.9Z" fill="#c0504d"/>
<path d="M241.4 519.1 L246.6 528.5 L236.2 528.5Z" fill="#c0504d"/>
<path d="M234.3 572.9 L239.5 582.3 L229.1 582.3Z" fill="#c0504d"/>
<path d="M241.5 627.3 L246.7 636.7 L236.3 636.7Z" fill="#c0504d"/>
<path d="M251.8 681.8 L257.0 691.2 L246.6 691.2Z" fill="#c0504d"/>
<path d="M256.1 736.2 L261.3 745.6 L250.9 745.6Z" fill="#c0504d"/>
<text x="74.8" y="453.3" font-size="19" text-anchor="middle" font-weight="normal" fill="#000" >1600</text>
<text x="122.3" y="453.3" font-size="19" text-anchor="middle" font-weight="normal" fill="#000" >1800</text>
<text x="169.9" y="453.3" font-size="19" text-anchor="middle" font-weight="normal" fill="#000" >2000</text>
<text x="217.4" y="453.3" font-size="19" text-anchor="middle" font-weight="normal" fill="#000" >2200</text>
<text x="265.0" y="453.3" font-size="19" text-anchor="middle" font-weight="normal" fill="#000" >2400</text>
<text x="312.5" y="453.3" font-size="19" text-anchor="middle" font-weight="normal" fill="#000" >2600</text>
<text x="52.3" y="475.9" font-size="19" text-anchor="end" font-weight="normal" fill="#000" >0</text>
<text x="52.3" y="530.3" font-size="19" text-anchor="end" font-weight="normal" fill="#000" >200</text>
<text x="52.3" y="584.8" font-size="19" text-anchor="end" font-weight="normal" fill="#000" >400</text>
<text x="52.3" y="639.2" font-size="19" text-anchor="end" font-weight="normal" fill="#000" >600</text>
<text x="52.3" y="693.6" font-size="19" text-anchor="end" font-weight="normal" fill="#000" >800</text>
<text x="52.3" y="748.1" font-size="19" text-anchor="end" font-weight="normal" fill="#000" >1,000</text>
<text x="52.3" y="802.5" font-size="19" text-anchor="end" font-weight="normal" fill="#000" >1,200</text>
<text x="138.5" y="425.8" font-size="19.2" font-weight="bold">TA (µmol·kg<tspan font-size="12.5" dy="-6.5">-1</tspan><tspan dy="6.5">)</tspan></text>
<text x="6.5" y="447.8" font-size="19.2" text-anchor="start" font-weight="bold" fill="#000" >(c)</text>
<text transform="translate(14.4,632.5) rotate(-90)" font-size="19.4" font-weight="bold" text-anchor="middle">Depth (m)</text>
<rect x="79.6" y="710.8" width="88.6" height="80.1" fill="#fff" stroke="#1a1a1a" stroke-width="1"/>
<rect x="89.0" y="721.0" width="7.4" height="7.4" fill="#fff" stroke="#7f7f7f" stroke-width="1"/>
<circle cx="92.7" cy="751.4" r="4.5" fill="#000"/>
<path d="M92.7 773.7 L97.0 781.5 L88.4 781.5Z" fill="#c0504d"/>
<text x="102.0" y="730.9" font-size="19" text-anchor="start" font-weight="normal" fill="#000" >Surface</text>
<text x="101.2" y="757.6" font-size="19" text-anchor="start" font-weight="normal" fill="#000" >&gt; 5 m</text>
<text x="101.2" y="783.8" font-size="19" text-anchor="start" font-weight="normal" fill="#000" >NTU2</text>
<line x1="571.8" y1="469.1" x2="571.8" y2="475.1" stroke="#1a1a1a" stroke-width="1.0"/>
<line x1="651.2" y1="469.1" x2="651.2" y2="475.1" stroke="#1a1a1a" stroke-width="1.0"/>
<line x1="492.4" y1="485.5" x2="496.4" y2="485.5" stroke="#1a1a1a" stroke-width="1.0"/>
<line x1="492.4" y1="501.9" x2="496.4" y2="501.9" stroke="#1a1a1a" stroke-width="1.0"/>
<line x1="492.4" y1="518.3" x2="496.4" y2="518.3" stroke="#1a1a1a" stroke-width="1.0"/>
<line x1="492.4" y1="534.8" x2="496.4" y2="534.8" stroke="#1a1a1a" stroke-width="1.0"/>
<line x1="492.4" y1="551.2" x2="498.4" y2="551.2" stroke="#1a1a1a" stroke-width="1.0"/>
<line x1="492.4" y1="567.6" x2="496.4" y2="567.6" stroke="#1a1a1a" stroke-width="1.0"/>
<line x1="492.4" y1="584.0" x2="496.4" y2="584.0" stroke="#1a1a1a" stroke-width="1.0"/>
<line x1="492.4" y1="600.4" x2="496.4" y2="600.4" stroke="#1a1a1a" stroke-width="1.0"/>
<line x1="492.4" y1="616.8" x2="496.4" y2="616.8" stroke="#1a1a1a" stroke-width="1.0"/>
<line x1="492.4" y1="633.2" x2="498.4" y2="633.2" stroke="#1a1a1a" stroke-width="1.0"/>
<line x1="492.4" y1="649.7" x2="496.4" y2="649.7" stroke="#1a1a1a" stroke-width="1.0"/>
<line x1="492.4" y1="666.1" x2="496.4" y2="666.1" stroke="#1a1a1a" stroke-width="1.0"/>
<line x1="492.4" y1="682.5" x2="496.4" y2="682.5" stroke="#1a1a1a" stroke-width="1.0"/>
<line x1="492.4" y1="698.9" x2="496.4" y2="698.9" stroke="#1a1a1a" stroke-width="1.0"/>
<line x1="492.4" y1="715.3" x2="498.4" y2="715.3" stroke="#1a1a1a" stroke-width="1.0"/>
<line x1="492.4" y1="731.7" x2="496.4" y2="731.7" stroke="#1a1a1a" stroke-width="1.0"/>
<line x1="492.4" y1="748.2" x2="496.4" y2="748.2" stroke="#1a1a1a" stroke-width="1.0"/>
<line x1="492.4" y1="764.6" x2="496.4" y2="764.6" stroke="#1a1a1a" stroke-width="1.0"/>
<line x1="492.4" y1="781.0" x2="496.4" y2="781.0" stroke="#1a1a1a" stroke-width="1.0"/>
<rect x="652.8" y="513.9" width="7.9" height="7.9" fill="none" stroke="#7f7f7f" stroke-width="1.5"/>
<rect x="632.9" y="566.0" width="7.9" height="7.9" fill="none" stroke="#7f7f7f" stroke-width="1.5"/>
<rect x="622.4" y="569.3" width="7.9" height="7.9" fill="none" stroke="#7f7f7f" stroke-width="1.5"/>
<rect x="616.4" y="578.9" width="7.9" height="7.9" fill="none" stroke="#7f7f7f" stroke-width="1.5"/>
<rect x="646.7" y="590.3" width="7.9" height="7.9" fill="none" stroke="#7f7f7f" stroke-width="1.5"/>
<rect x="655.4" y="589.5" width="7.9" height="7.9" fill="none" stroke="#7f7f7f" stroke-width="1.5"/>
<rect x="602.5" y="599.7" width="7.9" height="7.9" fill="none" stroke="#7f7f7f" stroke-width="1.5"/>
<rect x="593.8" y="603.7" width="7.9" height="7.9" fill="none" stroke="#7f7f7f" stroke-width="1.5"/>
<rect x="623.3" y="604.9" width="7.9" height="7.9" fill="none" stroke="#7f7f7f" stroke-width="1.5"/>
<rect x="632.9" y="601.4" width="7.9" height="7.9" fill="none" stroke="#7f7f7f" stroke-width="1.5"/>
<rect x="642.1" y="610.1" width="7.9" height="7.9" fill="none" stroke="#7f7f7f" stroke-width="1.5"/>
<rect x="586.0" y="615.0" width="7.9" height="7.9" fill="none" stroke="#7f7f7f" stroke-width="1.5"/>
<rect x="586.0" y="614.8" width="7.9" height="7.9" fill="none" stroke="#7f7f7f" stroke-width="1.5"/>
<rect x="579.9" y="620.0" width="7.9" height="7.9" fill="none" stroke="#7f7f7f" stroke-width="1.5"/>
<rect x="620.7" y="617.2" width="7.9" height="7.9" fill="none" stroke="#7f7f7f" stroke-width="1.5"/>
<rect x="620.7" y="620.4" width="7.9" height="7.9" fill="none" stroke="#7f7f7f" stroke-width="1.5"/>
<rect x="620.7" y="623.5" width="7.9" height="7.9" fill="none" stroke="#7f7f7f" stroke-width="1.5"/>
<rect x="629.4" y="623.5" width="7.9" height="7.9" fill="none" stroke="#7f7f7f" stroke-width="1.5"/>
<rect x="607.7" y="625.6" width="7.9" height="7.9" fill="none" stroke="#7f7f7f" stroke-width="1.5"/>
<rect x="573.0" y="624.7" width="7.9" height="7.9" fill="none" stroke="#7f7f7f" stroke-width="1.5"/>
<rect x="577.3" y="627.3" width="7.9" height="7.9" fill="none" stroke="#7f7f7f" stroke-width="1.5"/>
<rect x="582.5" y="624.7" width="7.9" height="7.9" fill="none" stroke="#7f7f7f" stroke-width="1.5"/>
<rect x="588.6" y="628.2" width="7.9" height="7.9" fill="none" stroke="#7f7f7f" stroke-width="1.5"/>
<rect x="596.4" y="632.5" width="7.9" height="7.9" fill="none" stroke="#7f7f7f" stroke-width="1.5"/>
<rect x="602.5" y="635.1" width="7.9" height="7.9" fill="none" stroke="#7f7f7f" stroke-width="1.5"/>
<rect x="618.1" y="636.0" width="7.9" height="7.9" fill="none" stroke="#7f7f7f" stroke-width="1.5"/>
<rect x="612.0" y="638.6" width="7.9" height="7.9" fill="none" stroke="#7f7f7f" stroke-width="1.5"/>
<rect x="631.1" y="639.5" width="7.9" height="7.9" fill="none" stroke="#7f7f7f" stroke-width="1.5"/>
<rect x="605.9" y="642.1" width="7.9" height="7.9" fill="none" stroke="#7f7f7f" stroke-width="1.5"/>
<rect x="611.2" y="644.7" width="7.9" height="7.9" fill="none" stroke="#7f7f7f" stroke-width="1.5"/>
<rect x="619.8" y="643.3" width="7.9" height="7.9" fill="none" stroke="#7f7f7f" stroke-width="1.5"/>
<rect x="568.6" y="637.7" width="7.9" height="7.9" fill="none" stroke="#7f7f7f" stroke-width="1.5"/>
<rect x="572.1" y="641.2" width="7.9" height="7.9" fill="none" stroke="#7f7f7f" stroke-width="1.5"/>
<rect x="579.0" y="638.6" width="7.9" height="7.9" fill="none" stroke="#7f7f7f" stroke-width="1.5"/>
<rect x="592.9" y="648.1" width="7.9" height="7.9" fill="none" stroke="#7f7f7f" stroke-width="1.5"/>
<rect x="599.0" y="651.6" width="7.9" height="7.9" fill="none" stroke="#7f7f7f" stroke-width="1.5"/>
<rect x="581.6" y="647.3" width="7.9" height="7.9" fill="none" stroke="#7f7f7f" stroke-width="1.5"/>
<rect x="587.7" y="655.1" width="7.9" height="7.9" fill="none" stroke="#7f7f7f" stroke-width="1.5"/>
<rect x="606.8" y="659.4" width="7.9" height="7.9" fill="none" stroke="#7f7f7f" stroke-width="1.5"/>
<rect x="593.8" y="662.9" width="7.9" height="7.9" fill="none" stroke="#7f7f7f" stroke-width="1.5"/>
<rect x="582.5" y="668.1" width="7.9" height="7.9" fill="none" stroke="#7f7f7f" stroke-width="1.5"/>
<rect x="619.0" y="665.5" width="7.9" height="7.9" fill="none" stroke="#7f7f7f" stroke-width="1.5"/>
<rect x="624.2" y="664.1" width="7.9" height="7.9" fill="none" stroke="#7f7f7f" stroke-width="1.5"/>
<rect x="559.9" y="664.6" width="7.9" height="7.9" fill="none" stroke="#7f7f7f" stroke-width="1.5"/>
<rect x="560.8" y="675.0" width="7.9" height="7.9" fill="none" stroke="#7f7f7f" stroke-width="1.5"/>
<rect x="563.4" y="684.6" width="7.9" height="7.9" fill="none" stroke="#7f7f7f" stroke-width="1.5"/>
<rect x="573.8" y="687.2" width="7.9" height="7.9" fill="none" stroke="#7f7f7f" stroke-width="1.5"/>
<rect x="587.7" y="686.3" width="7.9" height="7.9" fill="none" stroke="#7f7f7f" stroke-width="1.5"/>
<rect x="592.9" y="677.6" width="7.9" height="7.9" fill="none" stroke="#7f7f7f" stroke-width="1.5"/>
<rect x="596.4" y="680.3" width="7.9" height="7.9" fill="none" stroke="#7f7f7f" stroke-width="1.5"/>
<rect x="604.2" y="679.7" width="7.9" height="7.9" fill="none" stroke="#7f7f7f" stroke-width="1.5"/>
<rect x="577.3" y="665.5" width="7.9" height="7.9" fill="none" stroke="#7f7f7f" stroke-width="1.5"/>
<rect x="558.2" y="670.7" width="7.9" height="7.9" fill="none" stroke="#7f7f7f" stroke-width="1.5"/>
<rect x="566.9" y="679.4" width="7.9" height="7.9" fill="none" stroke="#7f7f7f" stroke-width="1.5"/>
<rect x="576.4" y="682.0" width="7.9" height="7.9" fill="none" stroke="#7f7f7f" stroke-width="1.5"/>
<rect x="569.5" y="651.6" width="7.9" height="7.9" fill="none" stroke="#7f7f7f" stroke-width="1.5"/>
<rect x="576.4" y="642.2" width="7.9" height="7.9" fill="none" stroke="#7f7f7f" stroke-width="1.5"/>
<rect x="565.0" y="643.1" width="7.9" height="7.9" fill="none" stroke="#7f7f7f" stroke-width="1.5"/>
<rect x="569.8" y="654.0" width="7.9" height="7.9" fill="none" stroke="#7f7f7f" stroke-width="1.5"/>
<rect x="567.1" y="640.5" width="7.9" height="7.9" fill="none" stroke="#7f7f7f" stroke-width="1.5"/>
<rect x="570.3" y="651.4" width="7.9" height="7.9" fill="none" stroke="#7f7f7f" stroke-width="1.5"/>
<rect x="577.9" y="637.9" width="7.9" height="7.9" fill="none" stroke="#7f7f7f" stroke-width="1.5"/>
<rect x="575.3" y="653.5" width="7.9" height="7.9" fill="none" stroke="#7f7f7f" stroke-width="1.5"/>
<rect x="569.3" y="638.3" width="7.9" height="7.9" fill="none" stroke="#7f7f7f" stroke-width="1.5"/>
<rect x="578.4" y="646.6" width="7.9" height="7.9" fill="none" stroke="#7f7f7f" stroke-width="1.5"/>
<rect x="568.1" y="649.1" width="7.9" height="7.9" fill="none" stroke="#7f7f7f" stroke-width="1.5"/>
<rect x="568.9" y="638.3" width="7.9" height="7.9" fill="none" stroke="#7f7f7f" stroke-width="1.5"/>
<rect x="577.8" y="647.0" width="7.9" height="7.9" fill="none" stroke="#7f7f7f" stroke-width="1.5"/>
<rect x="567.7" y="643.2" width="7.9" height="7.9" fill="none" stroke="#7f7f7f" stroke-width="1.5"/>
<rect x="570.0" y="637.7" width="7.9" height="7.9" fill="none" stroke="#7f7f7f" stroke-width="1.5"/>
<rect x="570.6" y="643.6" width="7.9" height="7.9" fill="none" stroke="#7f7f7f" stroke-width="1.5"/>
<rect x="578.0" y="636.1" width="7.9" height="7.9" fill="none" stroke="#7f7f7f" stroke-width="1.5"/>
<rect x="576.1" y="649.6" width="7.9" height="7.9" fill="none" stroke="#7f7f7f" stroke-width="1.5"/>
<rect x="576.4" y="650.4" width="7.9" height="7.9" fill="none" stroke="#7f7f7f" stroke-width="1.5"/>
<rect x="573.2" y="639.6" width="7.9" height="7.9" fill="none" stroke="#7f7f7f" stroke-width="1.5"/>
<rect x="569.0" y="640.4" width="7.9" height="7.9" fill="none" stroke="#7f7f7f" stroke-width="1.5"/>
<rect x="575.8" y="633.6" width="7.9" height="7.9" fill="none" stroke="#7f7f7f" stroke-width="1.5"/>
<rect x="567.2" y="649.9" width="7.9" height="7.9" fill="none" stroke="#7f7f7f" stroke-width="1.5"/>
<rect x="564.8" y="645.1" width="7.9" height="7.9" fill="none" stroke="#7f7f7f" stroke-width="1.5"/>
<rect x="568.2" y="633.7" width="7.9" height="7.9" fill="none" stroke="#7f7f7f" stroke-width="1.5"/>
<rect x="565.7" y="643.8" width="7.9" height="7.9" fill="none" stroke="#7f7f7f" stroke-width="1.5"/>
<rect x="574.8" y="642.5" width="7.9" height="7.9" fill="none" stroke="#7f7f7f" stroke-width="1.5"/>
<rect x="567.7" y="641.8" width="7.9" height="7.9" fill="none" stroke="#7f7f7f" stroke-width="1.5"/>
<rect x="573.4" y="648.0" width="7.9" height="7.9" fill="none" stroke="#7f7f7f" stroke-width="1.5"/>
<rect x="575.3" y="652.2" width="7.9" height="7.9" fill="none" stroke="#7f7f7f" stroke-width="1.5"/>
<rect x="584.2" y="625.8" width="7.9" height="7.9" fill="none" stroke="#7f7f7f" stroke-width="1.5"/>
<rect x="588.3" y="633.6" width="7.9" height="7.9" fill="none" stroke="#7f7f7f" stroke-width="1.5"/>
<rect x="581.9" y="637.2" width="7.9" height="7.9" fill="none" stroke="#7f7f7f" stroke-width="1.5"/>
<rect x="585.9" y="629.3" width="7.9" height="7.9" fill="none" stroke="#7f7f7f" stroke-width="1.5"/>
<rect x="582.2" y="635.1" width="7.9" height="7.9" fill="none" stroke="#7f7f7f" stroke-width="1.5"/>
<rect x="577.9" y="665.2" width="7.9" height="7.9" fill="none" stroke="#7f7f7f" stroke-width="1.5"/>
<rect x="580.5" y="630.8" width="7.9" height="7.9" fill="none" stroke="#7f7f7f" stroke-width="1.5"/>
<rect x="587.6" y="649.8" width="7.9" height="7.9" fill="none" stroke="#7f7f7f" stroke-width="1.5"/>
<rect x="579.7" y="657.3" width="7.9" height="7.9" fill="none" stroke="#7f7f7f" stroke-width="1.5"/>
<rect x="571.4" y="628.9" width="7.9" height="7.9" fill="none" stroke="#7f7f7f" stroke-width="1.5"/>
<rect x="590.4" y="637.2" width="7.9" height="7.9" fill="none" stroke="#7f7f7f" stroke-width="1.5"/>
<rect x="588.9" y="640.6" width="7.9" height="7.9" fill="none" stroke="#7f7f7f" stroke-width="1.5"/>
<rect x="582.6" y="648.3" width="7.9" height="7.9" fill="none" stroke="#7f7f7f" stroke-width="1.5"/>
<rect x="571.9" y="629.6" width="7.9" height="7.9" fill="none" stroke="#7f7f7f" stroke-width="1.5"/>
<rect x="583.9" y="629.5" width="7.9" height="7.9" fill="none" stroke="#7f7f7f" stroke-width="1.5"/>
<rect x="584.5" y="628.7" width="7.9" height="7.9" fill="none" stroke="#7f7f7f" stroke-width="1.5"/>
<rect x="575.9" y="629.5" width="7.9" height="7.9" fill="none" stroke="#7f7f7f" stroke-width="1.5"/>
<rect x="587.3" y="645.1" width="7.9" height="7.9" fill="none" stroke="#7f7f7f" stroke-width="1.5"/>
<rect x="570.1" y="624.9" width="7.9" height="7.9" fill="none" stroke="#7f7f7f" stroke-width="1.5"/>
<rect x="577.9" y="645.2" width="7.9" height="7.9" fill="none" stroke="#7f7f7f" stroke-width="1.5"/>
<rect x="583.6" y="624.5" width="7.9" height="7.9" fill="none" stroke="#7f7f7f" stroke-width="1.5"/>
<rect x="578.2" y="633.1" width="7.9" height="7.9" fill="none" stroke="#7f7f7f" stroke-width="1.5"/>
<rect x="575.8" y="663.4" width="7.9" height="7.9" fill="none" stroke="#7f7f7f" stroke-width="1.5"/>
<rect x="577.1" y="629.3" width="7.9" height="7.9" fill="none" stroke="#7f7f7f" stroke-width="1.5"/>
<rect x="585.7" y="629.5" width="7.9" height="7.9" fill="none" stroke="#7f7f7f" stroke-width="1.5"/>
<rect x="578.6" y="657.4" width="7.9" height="7.9" fill="none" stroke="#7f7f7f" stroke-width="1.5"/>
<rect x="565.6" y="684.7" width="7.9" height="7.9" fill="none" stroke="#7f7f7f" stroke-width="1.5"/>
<rect x="566.7" y="663.8" width="7.9" height="7.9" fill="none" stroke="#7f7f7f" stroke-width="1.5"/>
<rect x="557.4" y="675.0" width="7.9" height="7.9" fill="none" stroke="#7f7f7f" stroke-width="1.5"/>
<rect x="570.5" y="685.4" width="7.9" height="7.9" fill="none" stroke="#7f7f7f" stroke-width="1.5"/>
<rect x="558.9" y="677.1" width="7.9" height="7.9" fill="none" stroke="#7f7f7f" stroke-width="1.5"/>
<rect x="564.8" y="673.7" width="7.9" height="7.9" fill="none" stroke="#7f7f7f" stroke-width="1.5"/>
<rect x="560.1" y="667.3" width="7.9" height="7.9" fill="none" stroke="#7f7f7f" stroke-width="1.5"/>
<rect x="568.0" y="685.9" width="7.9" height="7.9" fill="none" stroke="#7f7f7f" stroke-width="1.5"/>
<rect x="559.3" y="673.3" width="7.9" height="7.9" fill="none" stroke="#7f7f7f" stroke-width="1.5"/>
<rect x="574.0" y="687.1" width="7.9" height="7.9" fill="none" stroke="#7f7f7f" stroke-width="1.5"/>
<rect x="561.2" y="662.7" width="7.9" height="7.9" fill="none" stroke="#7f7f7f" stroke-width="1.5"/>
<rect x="576.9" y="687.3" width="7.9" height="7.9" fill="none" stroke="#7f7f7f" stroke-width="1.5"/>
<circle cx="569.9" cy="659.2" r="4.6" fill="#000"/>
<circle cx="574.2" cy="666.2" r="4.6" fill="#000"/>
<circle cx="577.4" cy="676.9" r="4.6" fill="#000"/>
<circle cx="573.1" cy="687.0" r="4.6" fill="#000"/>
<circle cx="574.2" cy="697.7" r="4.6" fill="#000"/>
<circle cx="565.1" cy="700.9" r="4.6" fill="#000"/>
<circle cx="574.2" cy="708.4" r="4.6" fill="#000"/>
<circle cx="574.2" cy="716.9" r="4.6" fill="#000"/>
<circle cx="575.3" cy="723.3" r="4.6" fill="#000"/>
<circle cx="573.1" cy="732.4" r="4.6" fill="#000"/>
<circle cx="577.9" cy="739.4" r="4.6" fill="#000"/>
<circle cx="574.2" cy="724.3" r="4.6" fill="#000"/>
<circle cx="573.1" cy="732.3" r="4.6" fill="#000"/>
<circle cx="577.9" cy="741.4" r="4.6" fill="#000"/>
<circle cx="582.7" cy="748.8" r="4.6" fill="#000"/>
<circle cx="586.5" cy="752.6" r="4.6" fill="#000"/>
<circle cx="568.2" cy="659.0" r="4.6" fill="#000"/>
<circle cx="574.3" cy="666.8" r="4.6" fill="#000"/>
<circle cx="575.2" cy="672.9" r="4.6" fill="#000"/>
<circle cx="576.9" cy="677.3" r="4.6" fill="#000"/>
<circle cx="572.6" cy="681.6" r="4.6" fill="#000"/>
<circle cx="573.4" cy="686.8" r="4.6" fill="#000"/>
<circle cx="573.4" cy="692.0" r="4.6" fill="#000"/>
<circle cx="573.4" cy="697.2" r="4.6" fill="#000"/>
<circle cx="574.3" cy="702.4" r="4.6" fill="#000"/>
<circle cx="574.3" cy="707.6" r="4.6" fill="#000"/>
<circle cx="574.3" cy="712.8" r="4.6" fill="#000"/>
<circle cx="574.3" cy="718.1" r="4.6" fill="#000"/>
<path d="M570.4 654.8 L574.4 662.6 L566.4 662.6Z" fill="#c0504d"/>
<path d="M569.4 661.7 L573.4 669.5 L565.4 669.5Z" fill="#c0504d"/>
<path d="M572.1 670.8 L576.1 678.6 L568.1 678.6Z" fill="#c0504d"/>
<path d="M571.5 683.1 L575.5 690.9 L567.5 690.9Z" fill="#c0504d"/>
<path d="M572.1 694.9 L576.1 702.7 L568.1 702.7Z" fill="#c0504d"/>
<path d="M565.6 697.0 L569.6 704.8 L561.6 704.8Z" fill="#c0504d"/>
<path d="M571.0 702.3 L575.0 710.1 L567.0 710.1Z" fill="#c0504d"/>
<path d="M571.5 713.0 L575.5 720.8 L567.5 720.8Z" fill="#c0504d"/>
<path d="M572.1 728.0 L576.1 735.8 L568.1 735.8Z" fill="#c0504d"/>
<path d="M572.6 727.9 L576.6 735.7 L568.6 735.7Z" fill="#c0504d"/>
<path d="M577.9 740.1 L581.9 747.9 L573.9 747.9Z" fill="#c0504d"/>
<path d="M582.2 745.5 L586.2 753.3 L578.2 753.3Z" fill="#c0504d"/>
<path d="M585.9 748.2 L589.9 756.0 L581.9 756.0Z" fill="#c0504d"/>
<line x1="568.7" y1="468.8" x2="568.7" y2="790.5" stroke="#3a3a3a" stroke-width="1.35" stroke-dasharray="6.6 5.5"/>
<text x="491.4" y="453.3" font-size="19" text-anchor="middle" font-weight="normal" fill="#000" >1800</text>
<text x="570.8" y="453.3" font-size="19" text-anchor="middle" font-weight="normal" fill="#000" >2300</text>
<text x="650.2" y="453.3" font-size="19" text-anchor="middle" font-weight="normal" fill="#000" >2800</text>
<text x="729.6" y="453.3" font-size="19" text-anchor="middle" font-weight="normal" fill="#000" >3300</text>
<text x="470.3" y="476.0" font-size="19" text-anchor="end" font-weight="normal" fill="#000" >10.0</text>
<text x="470.3" y="558.1" font-size="19" text-anchor="end" font-weight="normal" fill="#000" >15.0</text>
<text x="470.3" y="640.1" font-size="19" text-anchor="end" font-weight="normal" fill="#000" >20.0</text>
<text x="470.3" y="722.2" font-size="19" text-anchor="end" font-weight="normal" fill="#000" >25.0</text>
<text x="470.3" y="804.3" font-size="19" text-anchor="end" font-weight="normal" fill="#000" >30.0</text>
<text x="552.7" y="425.8" font-size="19.2" font-weight="bold">NTA (µmol·kg<tspan font-size="12.5" dy="-6.5">-1</tspan><tspan dy="6.5">)</tspan></text>
<text x="407.8" y="447.8" font-size="19.2" text-anchor="start" font-weight="bold" fill="#000" >(d)</text>
<text transform="translate(426.6,632.5) rotate(-90)" font-size="20" font-weight="bold" text-anchor="middle">σ<tspan font-size="12.5" dy="4">θ</tspan></text>
<rect x="630.2" y="714.3" width="95.3" height="78.9" fill="#fff" stroke="#1a1a1a" stroke-width="1"/>
<rect x="643.6" y="724.3" width="7.0" height="7.0" fill="#fff" stroke="#7f7f7f" stroke-width="1"/>
<circle cx="647.1" cy="754.1" r="4.1" fill="#000"/>
<path d="M647.1 777.3 L650.5 783.7 L643.7 783.7Z" fill="#c0504d"/>
<text x="656.3" y="734.0" font-size="19" text-anchor="start" font-weight="normal" fill="#000" >Surface</text>
<text x="655.3" y="760.3" font-size="19" text-anchor="start" font-weight="normal" fill="#000" >&gt; 5 m</text>
<text x="656.3" y="786.7" font-size="19" text-anchor="start" font-weight="normal" fill="#000" >NTU2</text>
<line x1="112.6" y1="896.9" x2="112.6" y2="901.9" stroke="#1a1a1a" stroke-width="1.0"/>
<line x1="152.5" y1="896.9" x2="152.5" y2="901.9" stroke="#1a1a1a" stroke-width="1.0"/>
<line x1="192.4" y1="896.9" x2="192.4" y2="901.9" stroke="#1a1a1a" stroke-width="1.0"/>
<line x1="232.3" y1="896.9" x2="232.3" y2="901.9" stroke="#1a1a1a" stroke-width="1.0"/>
<line x1="272.2" y1="896.9" x2="272.2" y2="901.9" stroke="#1a1a1a" stroke-width="1.0"/>
<line x1="72.7" y1="951.3" x2="78.0" y2="951.3" stroke="#1a1a1a" stroke-width="1.0"/>
<line x1="72.7" y1="1005.7" x2="78.0" y2="1005.7" stroke="#1a1a1a" stroke-width="1.0"/>
<line x1="72.7" y1="1060.1" x2="78.0" y2="1060.1" stroke="#1a1a1a" stroke-width="1.0"/>
<line x1="72.7" y1="1114.5" x2="78.0" y2="1114.5" stroke="#1a1a1a" stroke-width="1.0"/>
<line x1="72.7" y1="1168.9" x2="78.0" y2="1168.9" stroke="#1a1a1a" stroke-width="1.0"/>
<line x1="71.2" y1="946.8" x2="309.3" y2="946.8" stroke="#6e6e6e" stroke-width="1.6" stroke-dasharray="7.4 4.7"/>
<line x1="71.2" y1="1000.7" x2="309.3" y2="1000.7" stroke="#6e6e6e" stroke-width="1.6" stroke-dasharray="7.4 4.7"/>
<rect x="68.6" y="893.3" width="8.0" height="8.0" fill="#fff" stroke="#7f7f7f" stroke-width="1.4"/>
<rect x="116" y="892.4" width="113.7" height="9.7" fill="#7f7f7f"/>
<rect x="117.5" y="893.9" width="1.4" height="6.4" fill="#fff" opacity="0.65"/>
<rect x="120.0" y="893.9" width="1.4" height="6.4" fill="#fff" opacity="0.65"/>
<rect x="215.8" y="893.9" width="1.4" height="6.4" fill="#fff" opacity="0.65"/>
<rect x="218.5" y="893.9" width="1.4" height="6.4" fill="#fff" opacity="0.65"/>
<rect x="223.2" y="893.9" width="1.4" height="6.4" fill="#fff" opacity="0.65"/>
<rect x="226.4" y="893.9" width="1.4" height="6.4" fill="#fff" opacity="0.65"/>
<circle cx="139.5" cy="910.6" r="4.5" fill="#000"/>
<circle cx="145.9" cy="910.6" r="4.5" fill="#000"/>
<circle cx="152.4" cy="910.6" r="4.5" fill="#000"/>
<circle cx="158.8" cy="910.6" r="4.5" fill="#000"/>
<circle cx="163.0" cy="910.6" r="4.5" fill="#000"/>
<circle cx="168.4" cy="910.6" r="4.5" fill="#000"/>
<circle cx="173.7" cy="910.6" r="4.5" fill="#000"/>
<circle cx="179.1" cy="910.6" r="4.5" fill="#000"/>
<circle cx="185.5" cy="910.6" r="4.5" fill="#000"/>
<circle cx="200.4" cy="910.6" r="4.5" fill="#000"/>
<circle cx="216.5" cy="910.6" r="4.5" fill="#000"/>
<circle cx="192.3" cy="904.6" r="4.5" fill="#000"/>
<circle cx="171.6" cy="918.0" r="4.5" fill="#000"/>
<circle cx="170.5" cy="924.9" r="4.5" fill="#000"/>
<circle cx="170.5" cy="931.3" r="4.5" fill="#000"/>
<circle cx="148.1" cy="924.9" r="4.5" fill="#000"/>
<circle cx="152.4" cy="923.8" r="4.5" fill="#000"/>
<circle cx="156.6" cy="923.8" r="4.5" fill="#000"/>
<circle cx="161.5" cy="930.9" r="4.5" fill="#000"/>
<circle cx="187.6" cy="925.9" r="4.5" fill="#000"/>
<circle cx="187.6" cy="931.3" r="4.5" fill="#000"/>
<circle cx="209.0" cy="930.9" r="4.5" fill="#000"/>
<circle cx="219.2" cy="930.9" r="4.5" fill="#000"/>
<circle cx="217.9" cy="943.7" r="4.5" fill="#000"/>
<circle cx="181.2" cy="951.2" r="4.5" fill="#000"/>
<circle cx="185.5" cy="951.2" r="4.5" fill="#000"/>
<circle cx="189.7" cy="951.2" r="4.5" fill="#000"/>
<circle cx="219.7" cy="951.2" r="4.5" fill="#000"/>
<circle cx="223.9" cy="951.2" r="4.5" fill="#000"/>
<circle cx="228.2" cy="951.2" r="4.5" fill="#000"/>
<circle cx="233.5" cy="951.2" r="4.5" fill="#000"/>
<circle cx="244.7" cy="951.2" r="4.5" fill="#000"/>
<circle cx="156.0" cy="955.9" r="4.5" fill="#000"/>
<circle cx="242.5" cy="978.7" r="4.5" fill="#000"/>
<circle cx="175.9" cy="985.3" r="4.5" fill="#000"/>
<circle cx="187.6" cy="987.3" r="4.5" fill="#000"/>
<circle cx="155.1" cy="1005.4" r="4.5" fill="#000"/>
<circle cx="238.9" cy="1005.4" r="4.5" fill="#000"/>
<circle cx="143.8" cy="1060.3" r="4.5" fill="#000"/>
<circle cx="126.5" cy="1115.0" r="4.5" fill="#000"/>
<circle cx="138.6" cy="1169.4" r="4.5" fill="#000"/>
<path d="M148.7 893.2 L152.9 901.0 L144.5 901.0Z" fill="#c0504d"/>
<path d="M170.5 893.2 L174.7 901.0 L166.3 901.0Z" fill="#c0504d"/>
<path d="M145.9 906.7 L150.1 914.5 L141.7 914.5Z" fill="#c0504d"/>
<path d="M168.4 906.7 L172.6 914.5 L164.2 914.5Z" fill="#c0504d"/>
<path d="M161.5 927.0 L165.7 934.8 L157.3 934.8Z" fill="#c0504d"/>
<path d="M187.6 927.0 L191.8 934.8 L183.4 934.8Z" fill="#c0504d"/>
<path d="M185.5 947.3 L189.7 955.1 L181.3 955.1Z" fill="#c0504d"/>
<path d="M233.5 947.3 L237.7 955.1 L229.3 955.1Z" fill="#c0504d"/>
<path d="M238.9 1001.5 L243.1 1009.3 L234.7 1009.3Z" fill="#c0504d"/>
<path d="M143.8 1056.1 L148.0 1063.9 L139.6 1063.9Z" fill="#c0504d"/>
<path d="M126.5 1110.8 L130.7 1118.6 L122.3 1118.6Z" fill="#c0504d"/>
<path d="M138.6 1165.2 L142.8 1173.0 L134.4 1173.0Z" fill="#c0504d"/>
<path d="M291.8 948.2 L291.8 999.6 M288.6 954.2 L291.8 948.2 L295.0 954.2 M288.6 993.6 L291.8 999.6 L295.0 993.6" fill="none" stroke="#000" stroke-width="1.4" stroke-linejoin="miter"/>
<text x="207.6" y="1022.0" font-size="17.2" text-anchor="start" font-weight="normal" fill="#111" >Primary peak</text>
<text x="70.5" y="881.0" font-size="19" text-anchor="middle" font-weight="normal" fill="#000" >0.0</text>
<text x="150.3" y="881.0" font-size="19" text-anchor="middle" font-weight="normal" fill="#000" >1.0</text>
<text x="230.1" y="881.0" font-size="19" text-anchor="middle" font-weight="normal" fill="#000" >2.0</text>
<text x="309.9" y="881.0" font-size="19" text-anchor="middle" font-weight="normal" fill="#000" >3.0</text>
<text x="50.6" y="903.6" font-size="19" text-anchor="end" font-weight="normal" fill="#000" >0</text>
<text x="50.6" y="958.0" font-size="19" text-anchor="end" font-weight="normal" fill="#000" >200</text>
<text x="50.6" y="1012.4" font-size="19" text-anchor="end" font-weight="normal" fill="#000" >400</text>
<text x="50.6" y="1066.8" font-size="19" text-anchor="end" font-weight="normal" fill="#000" >600</text>
<text x="50.6" y="1121.2" font-size="19" text-anchor="end" font-weight="normal" fill="#000" >800</text>
<text x="50.6" y="1175.6" font-size="19" text-anchor="end" font-weight="normal" fill="#000" >1,000</text>
<text x="50.6" y="1230.0" font-size="19" text-anchor="end" font-weight="normal" fill="#000" >1,200</text>
<text x="134.0" y="856.7" font-size="19.2" font-weight="bold"><tspan font-size="12.8" dy="-5.3">137</tspan><tspan dy="5.3">Cs (Bq·m</tspan><tspan font-size="12.5" dy="-6.5">-3</tspan><tspan dy="6.5">)</tspan></text>
<text x="6.5" y="870.8" font-size="19.2" text-anchor="start" font-weight="bold" fill="#000" >(e)</text>
<text transform="translate(14.4,1060) rotate(-90)" font-size="19.4" font-weight="bold" text-anchor="middle">Depth (m)</text>
<rect x="219.6" y="1145.2" width="85.6" height="73.3" fill="#fff" stroke="#1a1a1a" stroke-width="1"/>
<rect x="227.7" y="1154.8" width="7.0" height="7.0" fill="#fff" stroke="#7f7f7f" stroke-width="1"/>
<circle cx="231.2" cy="1182.6" r="4.0" fill="#000"/>
<path d="M231.2 1203.7 L234.6 1210.1 L227.8 1210.1Z" fill="#c0504d"/>
<text x="240.3" y="1164.5" font-size="19" text-anchor="start" font-weight="normal" fill="#000" >Surface</text>
<text x="239.4" y="1188.8" font-size="19" text-anchor="start" font-weight="normal" fill="#000" >&gt; 5 m</text>
<text x="240.3" y="1213.1" font-size="19" text-anchor="start" font-weight="normal" fill="#000" >NTU2</text>
<line x1="532.2" y1="893.0" x2="532.2" y2="898.0" stroke="#1a1a1a" stroke-width="1.0"/>
<line x1="572.2" y1="893.0" x2="572.2" y2="898.0" stroke="#1a1a1a" stroke-width="1.0"/>
<line x1="612.2" y1="893.0" x2="612.2" y2="898.0" stroke="#1a1a1a" stroke-width="1.0"/>
<line x1="652.3" y1="893.0" x2="652.3" y2="898.0" stroke="#1a1a1a" stroke-width="1.0"/>
<line x1="692.3" y1="893.0" x2="692.3" y2="898.0" stroke="#1a1a1a" stroke-width="1.0"/>
<line x1="492.2" y1="909.4" x2="497.2" y2="909.4" stroke="#1a1a1a" stroke-width="1.0"/>
<line x1="492.2" y1="925.9" x2="497.2" y2="925.9" stroke="#1a1a1a" stroke-width="1.0"/>
<line x1="492.2" y1="942.3" x2="497.2" y2="942.3" stroke="#1a1a1a" stroke-width="1.0"/>
<line x1="492.2" y1="958.8" x2="497.2" y2="958.8" stroke="#1a1a1a" stroke-width="1.0"/>
<line x1="492.2" y1="975.2" x2="498.2" y2="975.2" stroke="#1a1a1a" stroke-width="1.0"/>
<line x1="492.2" y1="991.6" x2="497.2" y2="991.6" stroke="#1a1a1a" stroke-width="1.0"/>
<line x1="492.2" y1="1008.1" x2="497.2" y2="1008.1" stroke="#1a1a1a" stroke-width="1.0"/>
<line x1="492.2" y1="1024.5" x2="497.2" y2="1024.5" stroke="#1a1a1a" stroke-width="1.0"/>
<line x1="492.2" y1="1041.0" x2="497.2" y2="1041.0" stroke="#1a1a1a" stroke-width="1.0"/>
<line x1="492.2" y1="1057.4" x2="498.2" y2="1057.4" stroke="#1a1a1a" stroke-width="1.0"/>
<line x1="492.2" y1="1073.8" x2="497.2" y2="1073.8" stroke="#1a1a1a" stroke-width="1.0"/>
<line x1="492.2" y1="1090.3" x2="497.2" y2="1090.3" stroke="#1a1a1a" stroke-width="1.0"/>
<line x1="492.2" y1="1106.7" x2="497.2" y2="1106.7" stroke="#1a1a1a" stroke-width="1.0"/>
<line x1="492.2" y1="1123.2" x2="497.2" y2="1123.2" stroke="#1a1a1a" stroke-width="1.0"/>
<line x1="492.2" y1="1139.6" x2="498.2" y2="1139.6" stroke="#1a1a1a" stroke-width="1.0"/>
<line x1="492.2" y1="1156.0" x2="497.2" y2="1156.0" stroke="#1a1a1a" stroke-width="1.0"/>
<line x1="492.2" y1="1172.5" x2="497.2" y2="1172.5" stroke="#1a1a1a" stroke-width="1.0"/>
<line x1="492.2" y1="1188.9" x2="497.2" y2="1188.9" stroke="#1a1a1a" stroke-width="1.0"/>
<line x1="492.2" y1="1205.4" x2="497.2" y2="1205.4" stroke="#1a1a1a" stroke-width="1.0"/>
<rect x="545.3" y="938.1" width="7.9" height="7.9" fill="none" stroke="#7f7f7f" stroke-width="1.5"/>
<rect x="556.6" y="958.1" width="7.9" height="7.9" fill="none" stroke="#7f7f7f" stroke-width="1.5"/>
<rect x="538.1" y="969.5" width="7.9" height="7.9" fill="none" stroke="#7f7f7f" stroke-width="1.5"/>
<rect x="575.5" y="970.3" width="7.9" height="7.9" fill="none" stroke="#7f7f7f" stroke-width="1.5"/>
<rect x="558.1" y="990.2" width="7.9" height="7.9" fill="none" stroke="#7f7f7f" stroke-width="1.5"/>
<rect x="587.6" y="993.6" width="7.9" height="7.9" fill="none" stroke="#7f7f7f" stroke-width="1.5"/>
<rect x="599.8" y="1002.6" width="7.9" height="7.9" fill="none" stroke="#7f7f7f" stroke-width="1.5"/>
<rect x="600.9" y="1005.8" width="7.9" height="7.9" fill="none" stroke="#7f7f7f" stroke-width="1.5"/>
<rect x="555.6" y="1005.8" width="7.9" height="7.9" fill="none" stroke="#7f7f7f" stroke-width="1.5"/>
<rect x="581.2" y="1013.3" width="7.9" height="7.9" fill="none" stroke="#7f7f7f" stroke-width="1.5"/>
<rect x="594.7" y="1011.8" width="7.9" height="7.9" fill="none" stroke="#7f7f7f" stroke-width="1.5"/>
<rect x="618.6" y="1014.3" width="7.9" height="7.9" fill="none" stroke="#7f7f7f" stroke-width="1.5"/>
<rect x="567.3" y="1021.8" width="7.9" height="7.9" fill="none" stroke="#7f7f7f" stroke-width="1.5"/>
<rect x="572.7" y="1024.0" width="7.9" height="7.9" fill="none" stroke="#7f7f7f" stroke-width="1.5"/>
<rect x="576.9" y="1021.8" width="7.9" height="7.9" fill="none" stroke="#7f7f7f" stroke-width="1.5"/>
<rect x="590.8" y="1024.0" width="7.9" height="7.9" fill="none" stroke="#7f7f7f" stroke-width="1.5"/>
<rect x="598.3" y="1022.9" width="7.9" height="7.9" fill="none" stroke="#7f7f7f" stroke-width="1.5"/>
<rect x="603.7" y="1025.5" width="7.9" height="7.9" fill="none" stroke="#7f7f7f" stroke-width="1.5"/>
<rect x="578.0" y="1028.2" width="7.9" height="7.9" fill="none" stroke="#7f7f7f" stroke-width="1.5"/>
<rect x="599.4" y="1028.2" width="7.9" height="7.9" fill="none" stroke="#7f7f7f" stroke-width="1.5"/>
<rect x="586.6" y="1032.5" width="7.9" height="7.9" fill="none" stroke="#7f7f7f" stroke-width="1.5"/>
<rect x="601.5" y="1033.6" width="7.9" height="7.9" fill="none" stroke="#7f7f7f" stroke-width="1.5"/>
<rect x="545.3" y="1035.1" width="7.9" height="7.9" fill="none" stroke="#7f7f7f" stroke-width="1.5"/>
<rect x="536.8" y="1040.0" width="7.9" height="7.9" fill="none" stroke="#7f7f7f" stroke-width="1.5"/>
<rect x="624.0" y="1036.1" width="7.9" height="7.9" fill="none" stroke="#7f7f7f" stroke-width="1.5"/>
<rect x="622.9" y="1042.1" width="7.9" height="7.9" fill="none" stroke="#7f7f7f" stroke-width="1.5"/>
<rect x="638.9" y="1035.1" width="7.9" height="7.9" fill="none" stroke="#7f7f7f" stroke-width="1.5"/>
<rect x="560.9" y="1037.8" width="7.9" height="7.9" fill="none" stroke="#7f7f7f" stroke-width="1.5"/>
<rect x="572.7" y="1033.6" width="7.9" height="7.9" fill="none" stroke="#7f7f7f" stroke-width="1.5"/>
<rect x="590.8" y="1035.7" width="7.9" height="7.9" fill="none" stroke="#7f7f7f" stroke-width="1.5"/>
<rect x="627.2" y="1048.5" width="7.9" height="7.9" fill="none" stroke="#7f7f7f" stroke-width="1.5"/>
<rect x="632.5" y="1053.9" width="7.9" height="7.9" fill="none" stroke="#7f7f7f" stroke-width="1.5"/>
<rect x="636.8" y="1053.9" width="7.9" height="7.9" fill="none" stroke="#7f7f7f" stroke-width="1.5"/>
<rect x="548.1" y="1048.5" width="7.9" height="7.9" fill="none" stroke="#7f7f7f" stroke-width="1.5"/>
<rect x="553.4" y="1049.6" width="7.9" height="7.9" fill="none" stroke="#7f7f7f" stroke-width="1.5"/>
<rect x="557.7" y="1046.4" width="7.9" height="7.9" fill="none" stroke="#7f7f7f" stroke-width="1.5"/>
<rect x="565.2" y="1044.3" width="7.9" height="7.9" fill="none" stroke="#7f7f7f" stroke-width="1.5"/>
<rect x="536.8" y="1039.9" width="7.9" height="7.9" fill="none" stroke="#7f7f7f" stroke-width="1.5"/>
<rect x="545.3" y="1035.2" width="7.9" height="7.9" fill="none" stroke="#7f7f7f" stroke-width="1.5"/>
<rect x="541.7" y="1083.7" width="7.9" height="7.9" fill="none" stroke="#7f7f7f" stroke-width="1.5"/>
<rect x="624.0" y="1036.7" width="7.9" height="7.9" fill="none" stroke="#7f7f7f" stroke-width="1.5"/>
<rect x="638.9" y="1035.0" width="7.9" height="7.9" fill="none" stroke="#7f7f7f" stroke-width="1.5"/>
<rect x="622.9" y="1042.1" width="7.9" height="7.9" fill="none" stroke="#7f7f7f" stroke-width="1.5"/>
<rect x="628.2" y="1048.5" width="7.9" height="7.9" fill="none" stroke="#7f7f7f" stroke-width="1.5"/>
<rect x="632.5" y="1054.9" width="7.9" height="7.9" fill="none" stroke="#7f7f7f" stroke-width="1.5"/>
<rect x="635.7" y="1054.9" width="7.9" height="7.9" fill="none" stroke="#7f7f7f" stroke-width="1.5"/>
<rect x="615.4" y="1075.2" width="7.9" height="7.9" fill="none" stroke="#7f7f7f" stroke-width="1.5"/>
<rect x="620.8" y="1077.3" width="7.9" height="7.9" fill="none" stroke="#7f7f7f" stroke-width="1.5"/>
<rect x="627.2" y="1070.9" width="7.9" height="7.9" fill="none" stroke="#7f7f7f" stroke-width="1.5"/>
<rect x="631.4" y="1072.0" width="7.9" height="7.9" fill="none" stroke="#7f7f7f" stroke-width="1.5"/>
<rect x="638.9" y="1077.3" width="7.9" height="7.9" fill="none" stroke="#7f7f7f" stroke-width="1.5"/>
<rect x="611.1" y="1097.6" width="7.9" height="7.9" fill="none" stroke="#7f7f7f" stroke-width="1.5"/>
<rect x="625.0" y="1093.4" width="7.9" height="7.9" fill="none" stroke="#7f7f7f" stroke-width="1.5"/>
<rect x="560.9" y="1106.2" width="7.9" height="7.9" fill="none" stroke="#7f7f7f" stroke-width="1.5"/>
<rect x="597.2" y="1106.2" width="7.9" height="7.9" fill="none" stroke="#7f7f7f" stroke-width="1.5"/>
<rect x="602.6" y="1106.8" width="7.9" height="7.9" fill="none" stroke="#7f7f7f" stroke-width="1.5"/>
<rect x="590.8" y="1107.2" width="7.9" height="7.9" fill="none" stroke="#7f7f7f" stroke-width="1.5"/>
<rect x="567.3" y="1116.9" width="7.9" height="7.9" fill="none" stroke="#7f7f7f" stroke-width="1.5"/>
<rect x="571.6" y="1122.2" width="7.9" height="7.9" fill="none" stroke="#7f7f7f" stroke-width="1.5"/>
<rect x="598.3" y="1125.4" width="7.9" height="7.9" fill="none" stroke="#7f7f7f" stroke-width="1.5"/>
<rect x="609.0" y="1120.1" width="7.9" height="7.9" fill="none" stroke="#7f7f7f" stroke-width="1.5"/>
<rect x="542.8" y="1064.5" width="7.9" height="7.9" fill="none" stroke="#7f7f7f" stroke-width="1.5"/>
<rect x="548.1" y="1065.6" width="7.9" height="7.9" fill="none" stroke="#7f7f7f" stroke-width="1.5"/>
<rect x="584.4" y="1106.2" width="7.9" height="7.9" fill="none" stroke="#7f7f7f" stroke-width="1.5"/>
<rect x="565.2" y="1110.5" width="7.9" height="7.9" fill="none" stroke="#7f7f7f" stroke-width="1.5"/>
<rect x="601.5" y="1111.5" width="7.9" height="7.9" fill="none" stroke="#7f7f7f" stroke-width="1.5"/>
<rect x="580.2" y="1099.8" width="7.9" height="7.9" fill="none" stroke="#7f7f7f" stroke-width="1.5"/>
<rect x="616.5" y="1090.2" width="7.9" height="7.9" fill="none" stroke="#7f7f7f" stroke-width="1.5"/>
<rect x="610.1" y="1079.5" width="7.9" height="7.9" fill="none" stroke="#7f7f7f" stroke-width="1.5"/>
<rect x="584.4" y="1023.0" width="7.9" height="7.9" fill="none" stroke="#7f7f7f" stroke-width="1.5"/>
<rect x="602.1" y="1029.0" width="7.9" height="7.9" fill="none" stroke="#7f7f7f" stroke-width="1.5"/>
<rect x="601.2" y="1033.2" width="7.9" height="7.9" fill="none" stroke="#7f7f7f" stroke-width="1.5"/>
<rect x="598.0" y="1024.9" width="7.9" height="7.9" fill="none" stroke="#7f7f7f" stroke-width="1.5"/>
<rect x="596.5" y="1026.0" width="7.9" height="7.9" fill="none" stroke="#7f7f7f" stroke-width="1.5"/>
<rect x="581.2" y="1037.3" width="7.9" height="7.9" fill="none" stroke="#7f7f7f" stroke-width="1.5"/>
<rect x="598.2" y="1025.3" width="7.9" height="7.9" fill="none" stroke="#7f7f7f" stroke-width="1.5"/>
<rect x="573.8" y="1029.2" width="7.9" height="7.9" fill="none" stroke="#7f7f7f" stroke-width="1.5"/>
<rect x="585.8" y="1029.0" width="7.9" height="7.9" fill="none" stroke="#7f7f7f" stroke-width="1.5"/>
<rect x="570.0" y="1026.5" width="7.9" height="7.9" fill="none" stroke="#7f7f7f" stroke-width="1.5"/>
<rect x="594.0" y="1038.2" width="7.9" height="7.9" fill="none" stroke="#7f7f7f" stroke-width="1.5"/>
<rect x="566.7" y="1032.2" width="7.9" height="7.9" fill="none" stroke="#7f7f7f" stroke-width="1.5"/>
<rect x="595.3" y="1022.7" width="7.9" height="7.9" fill="none" stroke="#7f7f7f" stroke-width="1.5"/>
<rect x="598.6" y="1024.2" width="7.9" height="7.9" fill="none" stroke="#7f7f7f" stroke-width="1.5"/>
<rect x="585.0" y="1047.5" width="7.9" height="7.9" fill="none" stroke="#7f7f7f" stroke-width="1.5"/>
<rect x="586.7" y="1042.9" width="7.9" height="7.9" fill="none" stroke="#7f7f7f" stroke-width="1.5"/>
<rect x="574.3" y="1048.1" width="7.9" height="7.9" fill="none" stroke="#7f7f7f" stroke-width="1.5"/>
<rect x="574.6" y="1049.6" width="7.9" height="7.9" fill="none" stroke="#7f7f7f" stroke-width="1.5"/>
<rect x="575.9" y="1045.4" width="7.9" height="7.9" fill="none" stroke="#7f7f7f" stroke-width="1.5"/>
<rect x="550.5" y="1048.8" width="7.9" height="7.9" fill="none" stroke="#7f7f7f" stroke-width="1.5"/>
<rect x="578.4" y="1041.5" width="7.9" height="7.9" fill="none" stroke="#7f7f7f" stroke-width="1.5"/>
<rect x="594.9" y="1051.9" width="7.9" height="7.9" fill="none" stroke="#7f7f7f" stroke-width="1.5"/>
<rect x="576.5" y="1040.5" width="7.9" height="7.9" fill="none" stroke="#7f7f7f" stroke-width="1.5"/>
<rect x="577.4" y="1039.1" width="7.9" height="7.9" fill="none" stroke="#7f7f7f" stroke-width="1.5"/>
<rect x="556.8" y="1045.2" width="7.9" height="7.9" fill="none" stroke="#7f7f7f" stroke-width="1.5"/>
<rect x="554.6" y="1045.4" width="7.9" height="7.9" fill="none" stroke="#7f7f7f" stroke-width="1.5"/>
<rect x="579.7" y="1037.8" width="7.9" height="7.9" fill="none" stroke="#7f7f7f" stroke-width="1.5"/>
<rect x="587.2" y="1038.6" width="7.9" height="7.9" fill="none" stroke="#7f7f7f" stroke-width="1.5"/>
<rect x="593.1" y="1051.8" width="7.9" height="7.9" fill="none" stroke="#7f7f7f" stroke-width="1.5"/>
<rect x="579.7" y="1038.1" width="7.9" height="7.9" fill="none" stroke="#7f7f7f" stroke-width="1.5"/>
<rect x="579.3" y="1044.2" width="7.9" height="7.9" fill="none" stroke="#7f7f7f" stroke-width="1.5"/>
<rect x="606.1" y="1039.6" width="7.9" height="7.9" fill="none" stroke="#7f7f7f" stroke-width="1.5"/>
<rect x="600.5" y="1056.0" width="7.9" height="7.9" fill="none" stroke="#7f7f7f" stroke-width="1.5"/>
<rect x="593.0" y="1052.5" width="7.9" height="7.9" fill="none" stroke="#7f7f7f" stroke-width="1.5"/>
<rect x="560.7" y="1055.7" width="7.9" height="7.9" fill="none" stroke="#7f7f7f" stroke-width="1.5"/>
<rect x="578.6" y="1055.2" width="7.9" height="7.9" fill="none" stroke="#7f7f7f" stroke-width="1.5"/>
<rect x="604.0" y="1040.2" width="7.9" height="7.9" fill="none" stroke="#7f7f7f" stroke-width="1.5"/>
<rect x="596.4" y="1054.7" width="7.9" height="7.9" fill="none" stroke="#7f7f7f" stroke-width="1.5"/>
<rect x="553.0" y="1043.7" width="7.9" height="7.9" fill="none" stroke="#7f7f7f" stroke-width="1.5"/>
<rect x="594.4" y="1040.1" width="7.9" height="7.9" fill="none" stroke="#7f7f7f" stroke-width="1.5"/>
<rect x="602.8" y="1042.3" width="7.9" height="7.9" fill="none" stroke="#7f7f7f" stroke-width="1.5"/>
<rect x="598.0" y="1039.8" width="7.9" height="7.9" fill="none" stroke="#7f7f7f" stroke-width="1.5"/>
<rect x="579.2" y="1054.5" width="7.9" height="7.9" fill="none" stroke="#7f7f7f" stroke-width="1.5"/>
<rect x="561.5" y="1042.0" width="7.9" height="7.9" fill="none" stroke="#7f7f7f" stroke-width="1.5"/>
<rect x="578.3" y="1052.9" width="7.9" height="7.9" fill="none" stroke="#7f7f7f" stroke-width="1.5"/>
<rect x="585.2" y="1074.2" width="7.9" height="7.9" fill="none" stroke="#7f7f7f" stroke-width="1.5"/>
<rect x="564.8" y="1070.1" width="7.9" height="7.9" fill="none" stroke="#7f7f7f" stroke-width="1.5"/>
<rect x="562.7" y="1060.7" width="7.9" height="7.9" fill="none" stroke="#7f7f7f" stroke-width="1.5"/>
<rect x="583.5" y="1054.4" width="7.9" height="7.9" fill="none" stroke="#7f7f7f" stroke-width="1.5"/>
<rect x="593.0" y="1061.6" width="7.9" height="7.9" fill="none" stroke="#7f7f7f" stroke-width="1.5"/>
<rect x="581.3" y="1073.7" width="7.9" height="7.9" fill="none" stroke="#7f7f7f" stroke-width="1.5"/>
<rect x="583.2" y="1055.6" width="7.9" height="7.9" fill="none" stroke="#7f7f7f" stroke-width="1.5"/>
<rect x="590.0" y="1050.8" width="7.9" height="7.9" fill="none" stroke="#7f7f7f" stroke-width="1.5"/>
<rect x="597.7" y="1062.4" width="7.9" height="7.9" fill="none" stroke="#7f7f7f" stroke-width="1.5"/>
<rect x="572.5" y="1069.3" width="7.9" height="7.9" fill="none" stroke="#7f7f7f" stroke-width="1.5"/>
<rect x="575.7" y="1047.6" width="7.9" height="7.9" fill="none" stroke="#7f7f7f" stroke-width="1.5"/>
<rect x="587.8" y="1042.8" width="7.9" height="7.9" fill="none" stroke="#7f7f7f" stroke-width="1.5"/>
<rect x="590.8" y="1050.4" width="7.9" height="7.9" fill="none" stroke="#7f7f7f" stroke-width="1.5"/>
<rect x="581.5" y="1065.6" width="7.9" height="7.9" fill="none" stroke="#7f7f7f" stroke-width="1.5"/>
<rect x="570.6" y="1041.1" width="7.9" height="7.9" fill="none" stroke="#7f7f7f" stroke-width="1.5"/>
<rect x="582.7" y="1057.0" width="7.9" height="7.9" fill="none" stroke="#7f7f7f" stroke-width="1.5"/>
<rect x="578.6" y="1074.2" width="7.9" height="7.9" fill="none" stroke="#7f7f7f" stroke-width="1.5"/>
<rect x="563.3" y="1049.5" width="7.9" height="7.9" fill="none" stroke="#7f7f7f" stroke-width="1.5"/>
<rect x="584.2" y="1041.9" width="7.9" height="7.9" fill="none" stroke="#7f7f7f" stroke-width="1.5"/>
<rect x="562.3" y="1054.3" width="7.9" height="7.9" fill="none" stroke="#7f7f7f" stroke-width="1.5"/>
<rect x="567.0" y="1062.6" width="7.9" height="7.9" fill="none" stroke="#7f7f7f" stroke-width="1.5"/>
<rect x="581.6" y="1048.6" width="7.9" height="7.9" fill="none" stroke="#7f7f7f" stroke-width="1.5"/>
<rect x="583.0" y="1058.6" width="7.9" height="7.9" fill="none" stroke="#7f7f7f" stroke-width="1.5"/>
<rect x="567.8" y="1046.6" width="7.9" height="7.9" fill="none" stroke="#7f7f7f" stroke-width="1.5"/>
<rect x="561.9" y="1064.7" width="7.9" height="7.9" fill="none" stroke="#7f7f7f" stroke-width="1.5"/>
<rect x="592.9" y="1070.0" width="7.9" height="7.9" fill="none" stroke="#7f7f7f" stroke-width="1.5"/>
<rect x="574.1" y="1050.8" width="7.9" height="7.9" fill="none" stroke="#7f7f7f" stroke-width="1.5"/>
<rect x="580.5" y="1054.0" width="7.9" height="7.9" fill="none" stroke="#7f7f7f" stroke-width="1.5"/>
<rect x="583.9" y="1057.5" width="7.9" height="7.9" fill="none" stroke="#7f7f7f" stroke-width="1.5"/>
<rect x="559.8" y="1060.7" width="7.9" height="7.9" fill="none" stroke="#7f7f7f" stroke-width="1.5"/>
<rect x="574.3" y="1049.8" width="7.9" height="7.9" fill="none" stroke="#7f7f7f" stroke-width="1.5"/>
<rect x="566.0" y="1063.5" width="7.9" height="7.9" fill="none" stroke="#7f7f7f" stroke-width="1.5"/>
<rect x="578.3" y="1064.8" width="7.9" height="7.9" fill="none" stroke="#7f7f7f" stroke-width="1.5"/>
<rect x="590.6" y="1047.5" width="7.9" height="7.9" fill="none" stroke="#7f7f7f" stroke-width="1.5"/>
<rect x="570.4" y="1052.2" width="7.9" height="7.9" fill="none" stroke="#7f7f7f" stroke-width="1.5"/>
<rect x="589.4" y="1067.5" width="7.9" height="7.9" fill="none" stroke="#7f7f7f" stroke-width="1.5"/>
<rect x="587.9" y="1058.3" width="7.9" height="7.9" fill="none" stroke="#7f7f7f" stroke-width="1.5"/>
<rect x="587.7" y="1057.8" width="7.9" height="7.9" fill="none" stroke="#7f7f7f" stroke-width="1.5"/>
<rect x="567.1" y="1044.9" width="7.9" height="7.9" fill="none" stroke="#7f7f7f" stroke-width="1.5"/>
<rect x="567.3" y="1042.5" width="7.9" height="7.9" fill="none" stroke="#7f7f7f" stroke-width="1.5"/>
<rect x="571.5" y="1068.8" width="7.9" height="7.9" fill="none" stroke="#7f7f7f" stroke-width="1.5"/>
<rect x="590.2" y="1085.9" width="7.9" height="7.9" fill="none" stroke="#7f7f7f" stroke-width="1.5"/>
<rect x="591.3" y="1062.7" width="7.9" height="7.9" fill="none" stroke="#7f7f7f" stroke-width="1.5"/>
<rect x="581.0" y="1069.5" width="7.9" height="7.9" fill="none" stroke="#7f7f7f" stroke-width="1.5"/>
<rect x="596.3" y="1073.0" width="7.9" height="7.9" fill="none" stroke="#7f7f7f" stroke-width="1.5"/>
<rect x="562.3" y="1077.7" width="7.9" height="7.9" fill="none" stroke="#7f7f7f" stroke-width="1.5"/>
<rect x="607.8" y="1060.7" width="7.9" height="7.9" fill="none" stroke="#7f7f7f" stroke-width="1.5"/>
<rect x="602.3" y="1052.7" width="7.9" height="7.9" fill="none" stroke="#7f7f7f" stroke-width="1.5"/>
<rect x="562.0" y="1061.5" width="7.9" height="7.9" fill="none" stroke="#7f7f7f" stroke-width="1.5"/>
<rect x="593.4" y="1089.8" width="7.9" height="7.9" fill="none" stroke="#7f7f7f" stroke-width="1.5"/>
<rect x="593.5" y="1065.1" width="7.9" height="7.9" fill="none" stroke="#7f7f7f" stroke-width="1.5"/>
<rect x="602.3" y="1065.2" width="7.9" height="7.9" fill="none" stroke="#7f7f7f" stroke-width="1.5"/>
<rect x="560.6" y="1088.4" width="7.9" height="7.9" fill="none" stroke="#7f7f7f" stroke-width="1.5"/>
<rect x="586.0" y="1079.8" width="7.9" height="7.9" fill="none" stroke="#7f7f7f" stroke-width="1.5"/>
<rect x="588.3" y="1091.2" width="7.9" height="7.9" fill="none" stroke="#7f7f7f" stroke-width="1.5"/>
<rect x="575.6" y="1085.6" width="7.9" height="7.9" fill="none" stroke="#7f7f7f" stroke-width="1.5"/>
<rect x="590.4" y="1086.4" width="7.9" height="7.9" fill="none" stroke="#7f7f7f" stroke-width="1.5"/>
<rect x="573.5" y="1081.0" width="7.9" height="7.9" fill="none" stroke="#7f7f7f" stroke-width="1.5"/>
<rect x="582.1" y="1064.4" width="7.9" height="7.9" fill="none" stroke="#7f7f7f" stroke-width="1.5"/>
<rect x="558.8" y="1077.0" width="7.9" height="7.9" fill="none" stroke="#7f7f7f" stroke-width="1.5"/>
<rect x="554.4" y="1053.1" width="7.9" height="7.9" fill="none" stroke="#7f7f7f" stroke-width="1.5"/>
<rect x="567.5" y="1057.7" width="7.9" height="7.9" fill="none" stroke="#7f7f7f" stroke-width="1.5"/>
<rect x="546.9" y="1053.7" width="7.9" height="7.9" fill="none" stroke="#7f7f7f" stroke-width="1.5"/>
<rect x="590.1" y="1077.4" width="7.9" height="7.9" fill="none" stroke="#7f7f7f" stroke-width="1.5"/>
<rect x="590.4" y="1081.5" width="7.9" height="7.9" fill="none" stroke="#7f7f7f" stroke-width="1.5"/>
<rect x="549.3" y="1075.7" width="7.9" height="7.9" fill="none" stroke="#7f7f7f" stroke-width="1.5"/>
<rect x="568.7" y="1084.8" width="7.9" height="7.9" fill="none" stroke="#7f7f7f" stroke-width="1.5"/>
<rect x="598.3" y="1087.7" width="7.9" height="7.9" fill="none" stroke="#7f7f7f" stroke-width="1.5"/>
<rect x="604.5" y="1089.8" width="7.9" height="7.9" fill="none" stroke="#7f7f7f" stroke-width="1.5"/>
<rect x="552.0" y="1060.3" width="7.9" height="7.9" fill="none" stroke="#7f7f7f" stroke-width="1.5"/>
<rect x="552.3" y="1053.4" width="7.9" height="7.9" fill="none" stroke="#7f7f7f" stroke-width="1.5"/>
<rect x="600.2" y="1084.5" width="7.9" height="7.9" fill="none" stroke="#7f7f7f" stroke-width="1.5"/>
<rect x="586.3" y="1085.1" width="7.9" height="7.9" fill="none" stroke="#7f7f7f" stroke-width="1.5"/>
<rect x="586.1" y="1063.5" width="7.9" height="7.9" fill="none" stroke="#7f7f7f" stroke-width="1.5"/>
<rect x="551.5" y="1056.0" width="7.9" height="7.9" fill="none" stroke="#7f7f7f" stroke-width="1.5"/>
<rect x="594.3" y="1060.2" width="7.9" height="7.9" fill="none" stroke="#7f7f7f" stroke-width="1.5"/>
<rect x="565.8" y="1069.0" width="7.9" height="7.9" fill="none" stroke="#7f7f7f" stroke-width="1.5"/>
<rect x="563.4" y="1080.7" width="7.9" height="7.9" fill="none" stroke="#7f7f7f" stroke-width="1.5"/>
<rect x="569.0" y="1064.9" width="7.9" height="7.9" fill="none" stroke="#7f7f7f" stroke-width="1.5"/>
<rect x="607.7" y="1072.2" width="7.9" height="7.9" fill="none" stroke="#7f7f7f" stroke-width="1.5"/>
<rect x="600.4" y="1076.8" width="7.9" height="7.9" fill="none" stroke="#7f7f7f" stroke-width="1.5"/>
<rect x="573.4" y="1083.0" width="7.9" height="7.9" fill="none" stroke="#7f7f7f" stroke-width="1.5"/>
<rect x="567.6" y="1080.2" width="7.9" height="7.9" fill="none" stroke="#7f7f7f" stroke-width="1.5"/>
<rect x="580.0" y="1060.7" width="7.9" height="7.9" fill="none" stroke="#7f7f7f" stroke-width="1.5"/>
<rect x="601.1" y="1055.7" width="7.9" height="7.9" fill="none" stroke="#7f7f7f" stroke-width="1.5"/>
<rect x="598.3" y="1058.9" width="7.9" height="7.9" fill="none" stroke="#7f7f7f" stroke-width="1.5"/>
<rect x="594.6" y="1091.2" width="7.9" height="7.9" fill="none" stroke="#7f7f7f" stroke-width="1.5"/>
<rect x="577.0" y="1083.9" width="7.9" height="7.9" fill="none" stroke="#7f7f7f" stroke-width="1.5"/>
<rect x="557.0" y="1071.8" width="7.9" height="7.9" fill="none" stroke="#7f7f7f" stroke-width="1.5"/>
<rect x="567.6" y="1085.3" width="7.9" height="7.9" fill="none" stroke="#7f7f7f" stroke-width="1.5"/>
<rect x="562.0" y="1089.8" width="7.9" height="7.9" fill="none" stroke="#7f7f7f" stroke-width="1.5"/>
<rect x="563.5" y="1060.6" width="7.9" height="7.9" fill="none" stroke="#7f7f7f" stroke-width="1.5"/>
<rect x="590.5" y="1072.0" width="7.9" height="7.9" fill="none" stroke="#7f7f7f" stroke-width="1.5"/>
<rect x="552.2" y="1077.5" width="7.9" height="7.9" fill="none" stroke="#7f7f7f" stroke-width="1.5"/>
<rect x="590.4" y="1083.5" width="7.9" height="7.9" fill="none" stroke="#7f7f7f" stroke-width="1.5"/>
<rect x="585.9" y="1066.3" width="7.9" height="7.9" fill="none" stroke="#7f7f7f" stroke-width="1.5"/>
<rect x="571.1" y="1067.8" width="7.9" height="7.9" fill="none" stroke="#7f7f7f" stroke-width="1.5"/>
<rect x="602.9" y="1055.5" width="7.9" height="7.9" fill="none" stroke="#7f7f7f" stroke-width="1.5"/>
<rect x="602.8" y="1053.1" width="7.9" height="7.9" fill="none" stroke="#7f7f7f" stroke-width="1.5"/>
<rect x="558.4" y="1062.6" width="7.9" height="7.9" fill="none" stroke="#7f7f7f" stroke-width="1.5"/>
<rect x="603.6" y="1072.1" width="7.9" height="7.9" fill="none" stroke="#7f7f7f" stroke-width="1.5"/>
<rect x="569.7" y="1087.4" width="7.9" height="7.9" fill="none" stroke="#7f7f7f" stroke-width="1.5"/>
<rect x="560.2" y="1070.5" width="7.9" height="7.9" fill="none" stroke="#7f7f7f" stroke-width="1.5"/>
<rect x="582.8" y="1098.2" width="7.9" height="7.9" fill="none" stroke="#7f7f7f" stroke-width="1.5"/>
<rect x="594.7" y="1095.6" width="7.9" height="7.9" fill="none" stroke="#7f7f7f" stroke-width="1.5"/>
<rect x="572.9" y="1087.9" width="7.9" height="7.9" fill="none" stroke="#7f7f7f" stroke-width="1.5"/>
<rect x="562.4" y="1100.3" width="7.9" height="7.9" fill="none" stroke="#7f7f7f" stroke-width="1.5"/>
<rect x="589.8" y="1097.9" width="7.9" height="7.9" fill="none" stroke="#7f7f7f" stroke-width="1.5"/>
<rect x="563.2" y="1090.6" width="7.9" height="7.9" fill="none" stroke="#7f7f7f" stroke-width="1.5"/>
<rect x="595.8" y="1094.0" width="7.9" height="7.9" fill="none" stroke="#7f7f7f" stroke-width="1.5"/>
<rect x="560.9" y="1091.1" width="7.9" height="7.9" fill="none" stroke="#7f7f7f" stroke-width="1.5"/>
<rect x="601.8" y="1085.8" width="7.9" height="7.9" fill="none" stroke="#7f7f7f" stroke-width="1.5"/>
<rect x="564.4" y="1087.3" width="7.9" height="7.9" fill="none" stroke="#7f7f7f" stroke-width="1.5"/>
<rect x="592.0" y="1100.3" width="7.9" height="7.9" fill="none" stroke="#7f7f7f" stroke-width="1.5"/>
<rect x="562.4" y="1083.8" width="7.9" height="7.9" fill="none" stroke="#7f7f7f" stroke-width="1.5"/>
<rect x="567.4" y="1087.9" width="7.9" height="7.9" fill="none" stroke="#7f7f7f" stroke-width="1.5"/>
<rect x="582.2" y="1083.9" width="7.9" height="7.9" fill="none" stroke="#7f7f7f" stroke-width="1.5"/>
<rect x="571.8" y="1084.6" width="7.9" height="7.9" fill="none" stroke="#7f7f7f" stroke-width="1.5"/>
<rect x="606.7" y="1097.5" width="7.9" height="7.9" fill="none" stroke="#7f7f7f" stroke-width="1.5"/>
<rect x="559.5" y="1103.1" width="7.9" height="7.9" fill="none" stroke="#7f7f7f" stroke-width="1.5"/>
<rect x="559.5" y="1089.3" width="7.9" height="7.9" fill="none" stroke="#7f7f7f" stroke-width="1.5"/>
<rect x="607.2" y="1099.1" width="7.9" height="7.9" fill="none" stroke="#7f7f7f" stroke-width="1.5"/>
<rect x="593.6" y="1090.5" width="7.9" height="7.9" fill="none" stroke="#7f7f7f" stroke-width="1.5"/>
<rect x="564.6" y="1095.4" width="7.9" height="7.9" fill="none" stroke="#7f7f7f" stroke-width="1.5"/>
<rect x="559.8" y="1085.0" width="7.9" height="7.9" fill="none" stroke="#7f7f7f" stroke-width="1.5"/>
<rect x="575.0" y="1080.9" width="7.9" height="7.9" fill="none" stroke="#7f7f7f" stroke-width="1.5"/>
<rect x="575.6" y="1099.0" width="7.9" height="7.9" fill="none" stroke="#7f7f7f" stroke-width="1.5"/>
<rect x="591.5" y="1092.1" width="7.9" height="7.9" fill="none" stroke="#7f7f7f" stroke-width="1.5"/>
<rect x="588.2" y="1091.2" width="7.9" height="7.9" fill="none" stroke="#7f7f7f" stroke-width="1.5"/>
<rect x="561.7" y="1094.5" width="7.9" height="7.9" fill="none" stroke="#7f7f7f" stroke-width="1.5"/>
<rect x="575.9" y="1097.8" width="7.9" height="7.9" fill="none" stroke="#7f7f7f" stroke-width="1.5"/>
<rect x="603.1" y="1090.4" width="7.9" height="7.9" fill="none" stroke="#7f7f7f" stroke-width="1.5"/>
<rect x="585.0" y="1098.0" width="7.9" height="7.9" fill="none" stroke="#7f7f7f" stroke-width="1.5"/>
<rect x="576.8" y="1085.5" width="7.9" height="7.9" fill="none" stroke="#7f7f7f" stroke-width="1.5"/>
<rect x="593.0" y="1101.2" width="7.9" height="7.9" fill="none" stroke="#7f7f7f" stroke-width="1.5"/>
<rect x="595.8" y="1096.9" width="7.9" height="7.9" fill="none" stroke="#7f7f7f" stroke-width="1.5"/>
<rect x="600.1" y="1096.4" width="7.9" height="7.9" fill="none" stroke="#7f7f7f" stroke-width="1.5"/>
<rect x="588.7" y="1090.9" width="7.9" height="7.9" fill="none" stroke="#7f7f7f" stroke-width="1.5"/>
<rect x="571.0" y="1095.1" width="7.9" height="7.9" fill="none" stroke="#7f7f7f" stroke-width="1.5"/>
<rect x="559.3" y="1090.1" width="7.9" height="7.9" fill="none" stroke="#7f7f7f" stroke-width="1.5"/>
<rect x="596.3" y="1097.2" width="7.9" height="7.9" fill="none" stroke="#7f7f7f" stroke-width="1.5"/>
<rect x="588.0" y="1086.1" width="7.9" height="7.9" fill="none" stroke="#7f7f7f" stroke-width="1.5"/>
<rect x="576.9" y="1091.0" width="7.9" height="7.9" fill="none" stroke="#7f7f7f" stroke-width="1.5"/>
<rect x="587.6" y="1089.9" width="7.9" height="7.9" fill="none" stroke="#7f7f7f" stroke-width="1.5"/>
<rect x="590.5" y="1102.4" width="7.9" height="7.9" fill="none" stroke="#7f7f7f" stroke-width="1.5"/>
<rect x="568.0" y="1118.4" width="7.9" height="7.9" fill="none" stroke="#7f7f7f" stroke-width="1.5"/>
<rect x="597.2" y="1112.6" width="7.9" height="7.9" fill="none" stroke="#7f7f7f" stroke-width="1.5"/>
<rect x="583.1" y="1125.5" width="7.9" height="7.9" fill="none" stroke="#7f7f7f" stroke-width="1.5"/>
<rect x="560.9" y="1116.0" width="7.9" height="7.9" fill="none" stroke="#7f7f7f" stroke-width="1.5"/>
<rect x="566.9" y="1121.2" width="7.9" height="7.9" fill="none" stroke="#7f7f7f" stroke-width="1.5"/>
<rect x="605.1" y="1115.5" width="7.9" height="7.9" fill="none" stroke="#7f7f7f" stroke-width="1.5"/>
<rect x="564.0" y="1116.7" width="7.9" height="7.9" fill="none" stroke="#7f7f7f" stroke-width="1.5"/>
<rect x="585.6" y="1119.8" width="7.9" height="7.9" fill="none" stroke="#7f7f7f" stroke-width="1.5"/>
<rect x="584.1" y="1118.1" width="7.9" height="7.9" fill="none" stroke="#7f7f7f" stroke-width="1.5"/>
<rect x="599.7" y="1115.5" width="7.9" height="7.9" fill="none" stroke="#7f7f7f" stroke-width="1.5"/>
<rect x="579.2" y="1124.9" width="7.9" height="7.9" fill="none" stroke="#7f7f7f" stroke-width="1.5"/>
<rect x="569.3" y="1119.1" width="7.9" height="7.9" fill="none" stroke="#7f7f7f" stroke-width="1.5"/>
<circle cx="579.8" cy="1083.4" r="4.7" fill="#000"/>
<circle cx="605.5" cy="1093.5" r="4.7" fill="#000"/>
<circle cx="621.5" cy="1090.3" r="4.7" fill="#000"/>
<circle cx="636.0" cy="1092.0" r="4.7" fill="#000"/>
<circle cx="572.4" cy="1098.8" r="4.7" fill="#000"/>
<circle cx="592.6" cy="1101.6" r="4.7" fill="#000"/>
<circle cx="599.5" cy="1101.6" r="4.7" fill="#000"/>
<circle cx="612.3" cy="1101.6" r="4.7" fill="#000"/>
<circle cx="620.4" cy="1101.6" r="4.7" fill="#000"/>
<circle cx="570.6" cy="1110.1" r="4.7" fill="#000"/>
<circle cx="576.6" cy="1106.9" r="4.7" fill="#000"/>
<circle cx="582.0" cy="1110.8" r="4.7" fill="#000"/>
<circle cx="560.6" cy="1123.4" r="4.7" fill="#000"/>
<circle cx="580.5" cy="1120.8" r="4.7" fill="#000"/>
<circle cx="590.5" cy="1120.8" r="4.7" fill="#000"/>
<circle cx="609.7" cy="1119.7" r="4.7" fill="#000"/>
<circle cx="568.1" cy="1128.3" r="4.7" fill="#000"/>
<circle cx="585.2" cy="1132.6" r="4.7" fill="#000"/>
<circle cx="591.6" cy="1133.6" r="4.7" fill="#000"/>
<circle cx="576.0" cy="1137.3" r="4.7" fill="#000"/>
<circle cx="608.7" cy="1130.4" r="4.7" fill="#000"/>
<circle cx="608.7" cy="1139.6" r="4.7" fill="#000"/>
<circle cx="603.8" cy="1148.2" r="4.7" fill="#000"/>
<circle cx="599.5" cy="1152.4" r="4.7" fill="#000"/>
<circle cx="629.0" cy="1139.0" r="4.7" fill="#000"/>
<circle cx="639.2" cy="1133.6" r="4.7" fill="#000"/>
<circle cx="637.1" cy="1145.4" r="4.7" fill="#000"/>
<circle cx="642.9" cy="1143.2" r="4.7" fill="#000"/>
<circle cx="647.8" cy="1149.7" r="4.7" fill="#000"/>
<circle cx="653.5" cy="1141.1" r="4.7" fill="#000"/>
<circle cx="664.9" cy="1145.4" r="4.7" fill="#000"/>
<circle cx="658.9" cy="1156.1" r="4.7" fill="#000"/>
<circle cx="663.2" cy="1157.1" r="4.7" fill="#000"/>
<circle cx="645.0" cy="1147.1" r="4.7" fill="#000"/>
<circle cx="575.5" cy="1165.5" r="4.7" fill="#000"/>
<circle cx="564.0" cy="1169.1" r="4.7" fill="#000"/>
<circle cx="546.7" cy="1174.1" r="4.7" fill="#000"/>
<circle cx="557.6" cy="1176.6" r="4.7" fill="#000"/>
<path d="M568.7 1078.9 L573.5 1087.9 L563.9 1087.9Z" fill="#c0504d"/>
<path d="M590.5 1085.3 L595.3 1094.3 L585.7 1094.3Z" fill="#c0504d"/>
<path d="M565.9 1094.3 L570.7 1103.3 L561.1 1103.3Z" fill="#c0504d"/>
<path d="M581.5 1106.3 L586.3 1115.3 L576.7 1115.3Z" fill="#c0504d"/>
<path d="M588.8 1119.1 L593.6 1128.1 L584.0 1128.1Z" fill="#c0504d"/>
<path d="M605.0 1118.4 L609.8 1127.4 L600.2 1127.4Z" fill="#c0504d"/>
<path d="M607.6 1125.5 L612.4 1134.5 L602.8 1134.5Z" fill="#c0504d"/>
<path d="M653.5 1136.6 L658.3 1145.6 L648.7 1145.6Z" fill="#c0504d"/>
<path d="M658.9 1151.6 L663.7 1160.6 L654.1 1160.6Z" fill="#c0504d"/>
<path d="M564.0 1164.9 L568.1 1172.7 L559.9 1172.7Z" fill="#c0504d"/>
<path d="M546.7 1169.9 L550.8 1177.7 L542.6 1177.7Z" fill="#c0504d"/>
<path d="M557.6 1172.4 L561.7 1180.2 L553.5 1180.2Z" fill="#c0504d"/>
<path d="M656.4 1041.4 l5.4 11.5 l-4.4 -2.6 v22.4 l4.4 -2.6 l-5.4 11.5 l-5.4 -11.5 l4.4 2.6 v-22.4 l-4.4 2.6 z" fill="#a6a6a6"/>
<text x="668.6" y="1056.4" font-size="17.2" fill="#7f7f7f">2<tspan font-size="12" dy="-4.6">nd</tspan></text>
<text x="668.6" y="1074.6" font-size="17.2" text-anchor="start" font-weight="normal" fill="#7f7f7f" >peak</text>
<line x1="606.1" y1="1156.3" x2="574.5" y2="1176.8" stroke="#a6a6a6" stroke-width="1.4" stroke-dasharray="7 3.5"/>
<path d="M566.5 1182.0 L572.5 1173.8 L576.4 1179.8Z" fill="#a6a6a6"/>
<line x1="617.9" y1="1145.7" x2="648.4" y2="1162.6" stroke="#a6a6a6" stroke-width="1.4" stroke-dasharray="7 3.5"/>
<path d="M656.7 1167.2 L646.6 1165.7 L650.1 1159.4Z" fill="#a6a6a6"/>
<line x1="667.6" y1="1141.4" x2="732.3" y2="1141.4" stroke="#000" stroke-width="1.1" stroke-dasharray="4.4 2"/>
<line x1="665.6" y1="1162.1" x2="726.3" y2="1162.1" stroke="#000" stroke-width="1.1" stroke-dasharray="4.4 2"/>
<path d="M716.4 1143.2 L716.4 1160.6 M714.1 1147.7 L716.4 1143.2 L718.6999999999999 1147.7 M714.1 1156.1 L716.4 1160.6 L718.6999999999999 1156.1" fill="none" stroke="#000" stroke-width="1.1" stroke-linejoin="miter"/>
<text x="677.4" y="1138.8" font-size="15.2" text-anchor="start" font-weight="normal" fill="#111" >STMW</text>
<text x="686.7" y="1175.6" font-size="15.2" text-anchor="start" font-weight="normal" fill="#111" >CMW</text>
<text x="628.6" y="1188.5" font-size="17.2" text-anchor="start" font-weight="normal" fill="#7f7f7f" >Primary peak</text>
<text x="628.6" y="1210.4" font-size="17.2" fill="#7f7f7f">High σ<tspan font-size="12.5" dy="2">θ</tspan><tspan dy="-2">, </tspan><tspan font-size="11.5" dy="-6">137</tspan><tspan dy="6">Cs</tspan></text>
<text x="505.4" y="1192.6" font-size="17.2" fill="#7f7f7f">High σ<tspan font-size="12.5" dy="2">θ</tspan></text>
<text x="505.4" y="1211.9" font-size="17.2" fill="#7f7f7f">Low. <tspan font-size="11.5" dy="-6">137</tspan><tspan dy="6">Cs</tspan></text>
<text x="489.5" y="876.9" font-size="19" text-anchor="middle" font-weight="normal" fill="#000" >0.0</text>
<text x="569.5" y="876.9" font-size="19" text-anchor="middle" font-weight="normal" fill="#000" >1.0</text>
<text x="649.6" y="876.9" font-size="19" text-anchor="middle" font-weight="normal" fill="#000" >2.0</text>
<text x="729.6" y="876.9" font-size="19" text-anchor="middle" font-weight="normal" fill="#000" >3.0</text>
<text x="470.6" y="900.1" font-size="19" text-anchor="end" font-weight="normal" fill="#000" >10.0</text>
<text x="470.6" y="982.3" font-size="19" text-anchor="end" font-weight="normal" fill="#000" >15.0</text>
<text x="470.6" y="1064.5" font-size="19" text-anchor="end" font-weight="normal" fill="#000" >20.0</text>
<text x="470.6" y="1146.7" font-size="19" text-anchor="end" font-weight="normal" fill="#000" >25.0</text>
<text x="470.6" y="1228.9" font-size="19" text-anchor="end" font-weight="normal" fill="#000" >30.0</text>
<text x="568.6" y="849.6" font-size="19.2" font-weight="bold"><tspan font-size="12.8" dy="-5.3">137</tspan><tspan dy="5.3">Cs (Bq·m</tspan><tspan font-size="12.5" dy="-6.5">-3</tspan><tspan dy="6.5">)</tspan></text>
<text x="407.8" y="870.8" font-size="19.2" text-anchor="start" font-weight="bold" fill="#000" >(f)</text>
<text transform="translate(426.6,1059) rotate(-90)" font-size="20" font-weight="bold" text-anchor="middle">σ<tspan font-size="12.5" dy="4">θ</tspan></text>
</svg>
</body></html>
